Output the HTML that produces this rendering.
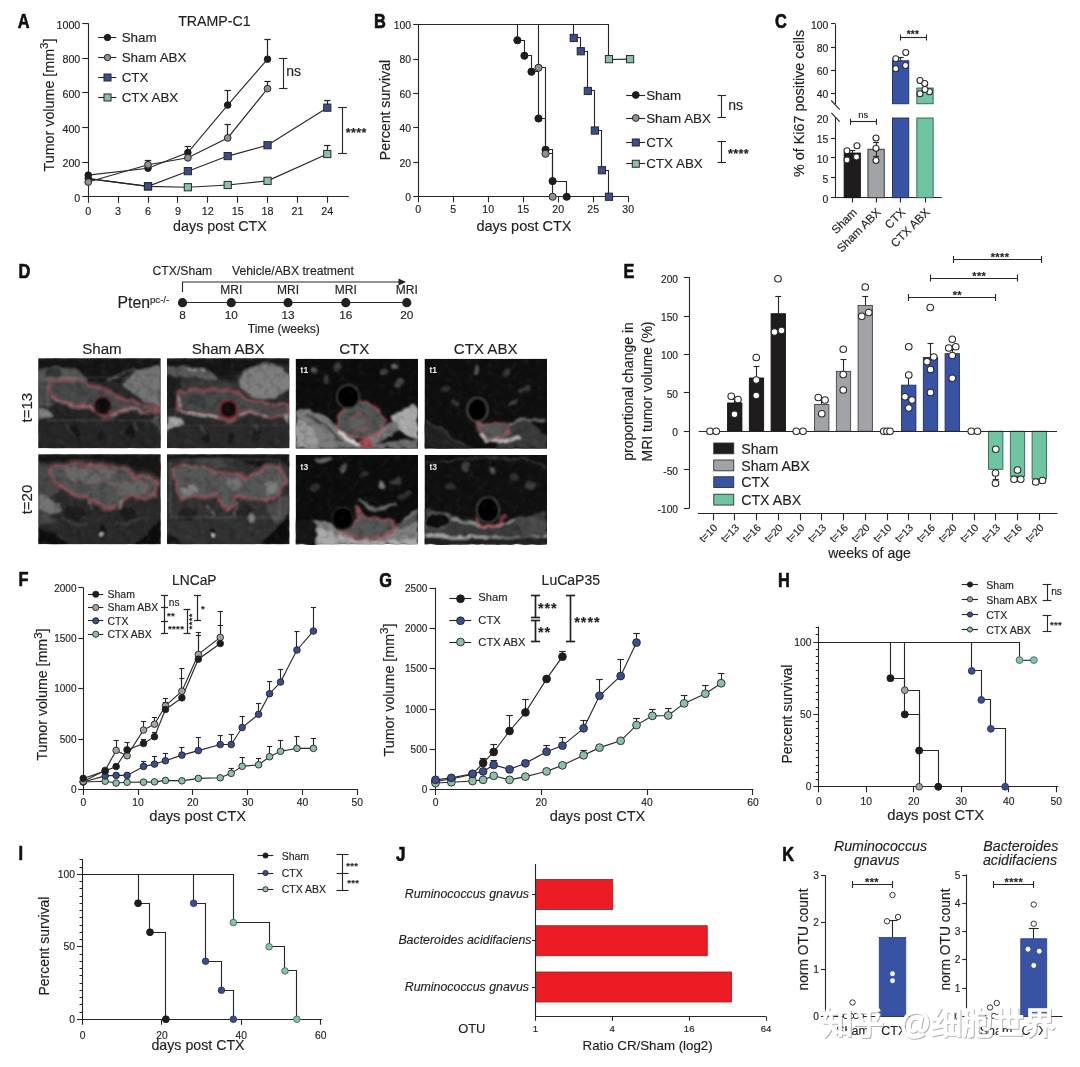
<!DOCTYPE html>
<html lang="en"><head><meta charset="utf-8"><title>Figure</title>
<style>
html,body{margin:0;padding:0;background:#fff;}
body{width:1080px;height:1067px;overflow:hidden;}
svg{display:block;font-family:"Liberation Sans", sans-serif;}
svg text{font-family:"Liberation Sans", sans-serif;}
svg text.wm{font-family:"Liberation Sans","Noto Sans CJK SC",sans-serif;}
.t{stroke:#231f20;stroke-width:0.16px;}
#all{filter:blur(0.35px);}
</style></head><body>
<svg width="1080" height="1067" viewBox="0 0 1080 1067">
<defs>
<filter id="b05" x="-5%" y="-20%" width="110%" height="140%"><feGaussianBlur stdDeviation="0.5"/></filter>
<filter id="org" x="-5%" y="-5%" width="110%" height="110%"><feTurbulence type="fractalNoise" baseFrequency="0.09" numOctaves="2" seed="3" result="n"/><feDisplacementMap in="SourceGraphic" in2="n" scale="7" xChannelSelector="R" yChannelSelector="G"/><feGaussianBlur stdDeviation="0.9"/></filter>
<filter id="b1" x="-5%" y="-5%" width="110%" height="110%"><feGaussianBlur stdDeviation="0.9"/></filter>
<filter id="noise" x="0" y="0" width="100%" height="100%"><feTurbulence type="fractalNoise" baseFrequency="0.16" numOctaves="2" seed="7"/><feColorMatrix type="matrix" values="0 0 0 0 1  0 0 0 0 1  0 0 0 0 1  2.2 0 0 0 -1.05"/></filter>
<filter id="noise2" x="0" y="0" width="100%" height="100%"><feTurbulence type="fractalNoise" baseFrequency="0.13" numOctaves="2" seed="23"/><feColorMatrix type="matrix" values="0 0 0 0 0  0 0 0 0 0  0 0 0 0 0  0 2.2 0 0 -1.0"/></filter>
<clipPath id="mclip1"><rect x="0" y="0" width="122.5" height="90"/></clipPath><clipPath id="mclip2"><rect x="0" y="0" width="122.5" height="90"/></clipPath><clipPath id="mclip3"><rect x="0" y="0" width="122.5" height="90"/></clipPath><clipPath id="mclip4"><rect x="0" y="0" width="122.5" height="90"/></clipPath><clipPath id="mclip5"><rect x="0" y="0" width="122.5" height="90"/></clipPath><clipPath id="mclip6"><rect x="0" y="0" width="122.5" height="90"/></clipPath><clipPath id="mclip7"><rect x="0" y="0" width="122.5" height="90"/></clipPath><clipPath id="mclip8"><rect x="0" y="0" width="122.5" height="90"/></clipPath>
</defs>
<rect x="0" y="0" width="1080" height="1067" fill="#ffffff"/>
<g id="all">
<text transform="translate(17.8 28.4) scale(0.82 1)" x="0" y="0" font-size="20" font-weight="bold" fill="#111" stroke="#111" stroke-width="0.65" stroke-linejoin="round">A</text>
<text class="t" x="214.4" y="25.8" font-size="14.2" text-anchor="middle" font-weight="normal" font-style="normal" fill="#231f20" >TRAMP-C1</text>
<line x1="88.5" y1="23.25" x2="88.5" y2="197.25" stroke="#272727" stroke-width="1.12" />
<line x1="87.75" y1="196.5" x2="348.8" y2="196.5" stroke="#272727" stroke-width="1.12" />
<line x1="82.25" y1="196.5" x2="88.25" y2="196.5" stroke="#272727" stroke-width="1.12" />
<text class="t" x="80.3" y="201.75" font-size="10.7" text-anchor="end" font-weight="normal" font-style="normal" fill="#231f20" >0</text>
<line x1="82.25" y1="162.5" x2="88.25" y2="162.5" stroke="#272727" stroke-width="1.12" />
<text class="t" x="80.3" y="167.15" font-size="10.7" text-anchor="end" font-weight="normal" font-style="normal" fill="#231f20" >200</text>
<line x1="82.25" y1="127.5" x2="88.25" y2="127.5" stroke="#272727" stroke-width="1.12" />
<text class="t" x="80.3" y="132.55" font-size="10.7" text-anchor="end" font-weight="normal" font-style="normal" fill="#231f20" >400</text>
<line x1="82.25" y1="92.5" x2="88.25" y2="92.5" stroke="#272727" stroke-width="1.12" />
<text class="t" x="80.3" y="97.95" font-size="10.7" text-anchor="end" font-weight="normal" font-style="normal" fill="#231f20" >600</text>
<line x1="82.25" y1="58.5" x2="88.25" y2="58.5" stroke="#272727" stroke-width="1.12" />
<text class="t" x="80.3" y="63.35" font-size="10.7" text-anchor="end" font-weight="normal" font-style="normal" fill="#231f20" >800</text>
<line x1="82.25" y1="23.5" x2="88.25" y2="23.5" stroke="#272727" stroke-width="1.12" />
<text class="t" x="80.3" y="28.75" font-size="10.7" text-anchor="end" font-weight="normal" font-style="normal" fill="#231f20" >1000</text>
<line x1="88.5" y1="196.75" x2="88.5" y2="202.75" stroke="#272727" stroke-width="1.12" />
<text class="t" x="88.25" y="214.5" font-size="10.8" text-anchor="middle" font-weight="normal" font-style="normal" fill="#231f20" >0</text>
<line x1="118.5" y1="196.75" x2="118.5" y2="202.75" stroke="#272727" stroke-width="1.12" />
<text class="t" x="118.13" y="214.5" font-size="10.8" text-anchor="middle" font-weight="normal" font-style="normal" fill="#231f20" >3</text>
<line x1="148.5" y1="196.75" x2="148.5" y2="202.75" stroke="#272727" stroke-width="1.12" />
<text class="t" x="148.01" y="214.5" font-size="10.8" text-anchor="middle" font-weight="normal" font-style="normal" fill="#231f20" >6</text>
<line x1="177.5" y1="196.75" x2="177.5" y2="202.75" stroke="#272727" stroke-width="1.12" />
<text class="t" x="177.89" y="214.5" font-size="10.8" text-anchor="middle" font-weight="normal" font-style="normal" fill="#231f20" >9</text>
<line x1="207.5" y1="196.75" x2="207.5" y2="202.75" stroke="#272727" stroke-width="1.12" />
<text class="t" x="207.77" y="214.5" font-size="10.8" text-anchor="middle" font-weight="normal" font-style="normal" fill="#231f20" >12</text>
<line x1="237.5" y1="196.75" x2="237.5" y2="202.75" stroke="#272727" stroke-width="1.12" />
<text class="t" x="237.65" y="214.5" font-size="10.8" text-anchor="middle" font-weight="normal" font-style="normal" fill="#231f20" >15</text>
<line x1="267.5" y1="196.75" x2="267.5" y2="202.75" stroke="#272727" stroke-width="1.12" />
<text class="t" x="267.53" y="214.5" font-size="10.8" text-anchor="middle" font-weight="normal" font-style="normal" fill="#231f20" >18</text>
<line x1="297.5" y1="196.75" x2="297.5" y2="202.75" stroke="#272727" stroke-width="1.12" />
<text class="t" x="297.41" y="214.5" font-size="10.8" text-anchor="middle" font-weight="normal" font-style="normal" fill="#231f20" >21</text>
<line x1="327.5" y1="196.75" x2="327.5" y2="202.75" stroke="#272727" stroke-width="1.12" />
<text class="t" x="327.29" y="214.5" font-size="10.8" text-anchor="middle" font-weight="normal" font-style="normal" fill="#231f20" >24</text>
<text class="t" x="220" y="230.5" font-size="14.3" text-anchor="middle" font-weight="normal" font-style="normal" fill="#231f20" >days post CTX</text>
<text class="t" x="0" y="0" font-size="14.3" text-anchor="middle" font-weight="normal" font-style="normal" fill="#231f20" transform="translate(53.8 105) rotate(-90)" >Tumor volume [mm<tspan dy="-5.5" font-size="11.5">3</tspan><tspan dy="5.5">]</tspan></text>
<line x1="187.5" y1="152.63" x2="187.5" y2="146.75" stroke="#272727" stroke-width="1.23" />
<line x1="184.65" y1="146.5" x2="191.05" y2="146.5" stroke="#272727" stroke-width="1.23" />
<line x1="227.5" y1="105.06" x2="227.5" y2="90.01" stroke="#272727" stroke-width="1.23" />
<line x1="224.49" y1="90.5" x2="230.89" y2="90.5" stroke="#272727" stroke-width="1.23" />
<line x1="267.5" y1="59.22" x2="267.5" y2="39.49" stroke="#272727" stroke-width="1.23" />
<line x1="264.33" y1="39.5" x2="270.73" y2="39.5" stroke="#272727" stroke-width="1.23" />
<line x1="148.5" y1="164.75" x2="148.5" y2="160.07" stroke="#272727" stroke-width="1.23" />
<line x1="144.81" y1="160.5" x2="151.21" y2="160.5" stroke="#272727" stroke-width="1.23" />
<line x1="227.5" y1="137.93" x2="227.5" y2="124.95" stroke="#272727" stroke-width="1.23" />
<line x1="224.49" y1="124.5" x2="230.89" y2="124.5" stroke="#272727" stroke-width="1.23" />
<line x1="267.5" y1="88.63" x2="267.5" y2="81.19" stroke="#272727" stroke-width="1.23" />
<line x1="264.33" y1="81.5" x2="270.73" y2="81.5" stroke="#272727" stroke-width="1.23" />
<line x1="327.5" y1="107.66" x2="327.5" y2="100.74" stroke="#272727" stroke-width="1.23" />
<line x1="324.09" y1="100.5" x2="330.49" y2="100.5" stroke="#272727" stroke-width="1.23" />
<line x1="327.5" y1="154.02" x2="327.5" y2="145.54" stroke="#272727" stroke-width="1.23" />
<line x1="324.09" y1="145.5" x2="330.49" y2="145.5" stroke="#272727" stroke-width="1.23" />
<polyline points="88.25,178.59 148.01,186.37 187.85,187.24 227.69,184.99 267.53,180.83 327.29,154.02" fill="none" stroke="#272727" stroke-width="1.12" />
<polyline points="88.25,178.59 148.01,186.37 187.85,171.15 227.69,156.09 267.53,145.2 327.29,107.66" fill="none" stroke="#272727" stroke-width="1.12" />
<polyline points="88.25,182.05 148.01,164.75 187.85,157.82 227.69,137.93 267.53,88.63" fill="none" stroke="#272727" stroke-width="1.12" />
<polyline points="88.25,175.12 148.01,168.21 187.85,152.63 227.69,105.06 267.53,59.22" fill="none" stroke="#272727" stroke-width="1.12" />
<rect x="144.41" y="182.77" width="7.2" height="7.2" fill="#8cc0aa" stroke="#272727" stroke-width="1" />
<rect x="184.25" y="183.64" width="7.2" height="7.2" fill="#8cc0aa" stroke="#272727" stroke-width="1" />
<rect x="224.09" y="181.39" width="7.2" height="7.2" fill="#8cc0aa" stroke="#272727" stroke-width="1" />
<rect x="263.93" y="177.23" width="7.2" height="7.2" fill="#8cc0aa" stroke="#272727" stroke-width="1" />
<rect x="323.69" y="150.42" width="7.2" height="7.2" fill="#8cc0aa" stroke="#272727" stroke-width="1" />
<rect x="144.41" y="182.77" width="7.2" height="7.2" fill="#3c4d8e" stroke="#272727" stroke-width="1" />
<rect x="184.25" y="167.55" width="7.2" height="7.2" fill="#3c4d8e" stroke="#272727" stroke-width="1" />
<rect x="224.09" y="152.5" width="7.2" height="7.2" fill="#3c4d8e" stroke="#272727" stroke-width="1" />
<rect x="263.93" y="141.6" width="7.2" height="7.2" fill="#3c4d8e" stroke="#272727" stroke-width="1" />
<rect x="323.69" y="104.06" width="7.2" height="7.2" fill="#3c4d8e" stroke="#272727" stroke-width="1" />
<circle cx="88.25" cy="178.59" r="3.3" fill="#1f1c1d" stroke="#1f1c1d" stroke-width="1" />
<circle cx="88.25" cy="175.12" r="3.3" fill="#1f1c1d" stroke="#1f1c1d" stroke-width="1" />
<circle cx="148.01" cy="168.21" r="3.3" fill="#1f1c1d" stroke="#1f1c1d" stroke-width="1" />
<circle cx="187.85" cy="152.63" r="3.3" fill="#1f1c1d" stroke="#1f1c1d" stroke-width="1" />
<circle cx="227.69" cy="105.06" r="3.3" fill="#1f1c1d" stroke="#1f1c1d" stroke-width="1" />
<circle cx="267.53" cy="59.22" r="3.3" fill="#1f1c1d" stroke="#1f1c1d" stroke-width="1" />
<circle cx="88.25" cy="182.05" r="3.4" fill="#8e9093" stroke="#272727" stroke-width="1" />
<circle cx="148.01" cy="164.75" r="3.4" fill="#8e9093" stroke="#272727" stroke-width="1" />
<circle cx="187.85" cy="157.82" r="3.4" fill="#8e9093" stroke="#272727" stroke-width="1" />
<circle cx="227.69" cy="137.93" r="3.4" fill="#8e9093" stroke="#272727" stroke-width="1" />
<circle cx="267.53" cy="88.63" r="3.4" fill="#8e9093" stroke="#272727" stroke-width="1" />
<line x1="98.2" y1="37.5" x2="116.3" y2="37.5" stroke="#272727" stroke-width="1.12" />
<circle cx="107.5" cy="37.5" r="3.2" fill="#1f1c1d" stroke="#1f1c1d" stroke-width="1" />
<text class="t" x="121.7" y="42.3" font-size="13.4" text-anchor="start" font-weight="normal" font-style="normal" fill="#231f20" >Sham</text>
<line x1="98.2" y1="57.5" x2="116.3" y2="57.5" stroke="#272727" stroke-width="1.12" />
<circle cx="107.5" cy="57.5" r="3.2" fill="#8e9093" stroke="#272727" stroke-width="1" />
<text class="t" x="121.7" y="62.3" font-size="13.4" text-anchor="start" font-weight="normal" font-style="normal" fill="#231f20" >Sham ABX</text>
<line x1="98.2" y1="77.5" x2="116.3" y2="77.5" stroke="#272727" stroke-width="1.12" />
<rect x="104" y="74" width="7" height="7" fill="#3c4d8e" stroke="#272727" stroke-width="1" />
<text class="t" x="121.7" y="82.3" font-size="13.4" text-anchor="start" font-weight="normal" font-style="normal" fill="#231f20" >CTX</text>
<line x1="98.2" y1="97.5" x2="116.3" y2="97.5" stroke="#272727" stroke-width="1.12" />
<rect x="104" y="94" width="7" height="7" fill="#8cc0aa" stroke="#272727" stroke-width="1" />
<text class="t" x="121.7" y="102.3" font-size="13.4" text-anchor="start" font-weight="normal" font-style="normal" fill="#231f20" >CTX ABX</text>
<line x1="283.5" y1="58.75" x2="283.5" y2="88.5" stroke="#272727" stroke-width="1.12" />
<line x1="279.05" y1="58.5" x2="287.45" y2="58.5" stroke="#272727" stroke-width="1.12" />
<line x1="279.05" y1="88.5" x2="287.45" y2="88.5" stroke="#272727" stroke-width="1.12" />
<text class="t" x="286.3" y="76.3" font-size="14" text-anchor="start" font-weight="normal" font-style="normal" fill="#231f20" >ns</text>
<line x1="342.5" y1="107" x2="342.5" y2="153.5" stroke="#272727" stroke-width="1.12" />
<line x1="338.1" y1="107.5" x2="346.9" y2="107.5" stroke="#272727" stroke-width="1.12" />
<line x1="338.1" y1="153.5" x2="346.9" y2="153.5" stroke="#272727" stroke-width="1.12" />
<text class="t" x="345.8" y="137.25" font-size="12.5" text-anchor="start" font-weight="bold" font-style="normal" fill="#231f20" letter-spacing="0.35">****</text>
<text transform="translate(374 27.6) scale(0.82 1)" x="0" y="0" font-size="20" font-weight="bold" fill="#111" stroke="#111" stroke-width="0.65" stroke-linejoin="round">B</text>
<line x1="418.5" y1="24.25" x2="418.5" y2="197.25" stroke="#272727" stroke-width="1.12" />
<line x1="417.75" y1="196.5" x2="628.75" y2="196.5" stroke="#272727" stroke-width="1.12" />
<line x1="413.25" y1="196.5" x2="418.25" y2="196.5" stroke="#272727" stroke-width="1.12" />
<text class="t" x="411" y="201.05" font-size="10.4" text-anchor="end" font-weight="normal" font-style="normal" fill="#231f20" >0</text>
<line x1="413.25" y1="162.5" x2="418.25" y2="162.5" stroke="#272727" stroke-width="1.12" />
<text class="t" x="411" y="166.65" font-size="10.4" text-anchor="end" font-weight="normal" font-style="normal" fill="#231f20" >20</text>
<line x1="413.25" y1="127.5" x2="418.25" y2="127.5" stroke="#272727" stroke-width="1.12" />
<text class="t" x="411" y="132.25" font-size="10.4" text-anchor="end" font-weight="normal" font-style="normal" fill="#231f20" >40</text>
<line x1="413.25" y1="93.5" x2="418.25" y2="93.5" stroke="#272727" stroke-width="1.12" />
<text class="t" x="411" y="97.85" font-size="10.4" text-anchor="end" font-weight="normal" font-style="normal" fill="#231f20" >60</text>
<line x1="413.25" y1="59.5" x2="418.25" y2="59.5" stroke="#272727" stroke-width="1.12" />
<text class="t" x="411" y="63.45" font-size="10.4" text-anchor="end" font-weight="normal" font-style="normal" fill="#231f20" >80</text>
<line x1="413.25" y1="24.5" x2="418.25" y2="24.5" stroke="#272727" stroke-width="1.12" />
<text class="t" x="411" y="29.05" font-size="10.4" text-anchor="end" font-weight="normal" font-style="normal" fill="#231f20" >100</text>
<line x1="418.5" y1="196.75" x2="418.5" y2="202.25" stroke="#272727" stroke-width="1.12" />
<text class="t" x="418.25" y="212.6" font-size="10.6" text-anchor="middle" font-weight="normal" font-style="normal" fill="#231f20" >0</text>
<line x1="453.5" y1="196.75" x2="453.5" y2="202.25" stroke="#272727" stroke-width="1.12" />
<text class="t" x="453.25" y="212.6" font-size="10.6" text-anchor="middle" font-weight="normal" font-style="normal" fill="#231f20" >5</text>
<line x1="488.5" y1="196.75" x2="488.5" y2="202.25" stroke="#272727" stroke-width="1.12" />
<text class="t" x="488.25" y="212.6" font-size="10.6" text-anchor="middle" font-weight="normal" font-style="normal" fill="#231f20" >10</text>
<line x1="523.5" y1="196.75" x2="523.5" y2="202.25" stroke="#272727" stroke-width="1.12" />
<text class="t" x="523.25" y="212.6" font-size="10.6" text-anchor="middle" font-weight="normal" font-style="normal" fill="#231f20" >15</text>
<line x1="558.5" y1="196.75" x2="558.5" y2="202.25" stroke="#272727" stroke-width="1.12" />
<text class="t" x="558.25" y="212.6" font-size="10.6" text-anchor="middle" font-weight="normal" font-style="normal" fill="#231f20" >20</text>
<line x1="593.5" y1="196.75" x2="593.5" y2="202.25" stroke="#272727" stroke-width="1.12" />
<text class="t" x="593.25" y="212.6" font-size="10.6" text-anchor="middle" font-weight="normal" font-style="normal" fill="#231f20" >25</text>
<line x1="628.5" y1="196.75" x2="628.5" y2="202.25" stroke="#272727" stroke-width="1.12" />
<text class="t" x="628.25" y="212.6" font-size="10.6" text-anchor="middle" font-weight="normal" font-style="normal" fill="#231f20" >30</text>
<text class="t" x="524" y="231" font-size="14.5" text-anchor="middle" font-weight="normal" font-style="normal" fill="#231f20" >days post CTX</text>
<text class="t" x="0" y="0" font-size="14.1" text-anchor="middle" font-weight="normal" font-style="normal" fill="#231f20" transform="translate(390 110) rotate(-90)" >Percent survival</text>
<polyline points="418.5,24.5 608.5,24.5 608.5,59.5 630.1,59.15" fill="none" stroke="#272727" stroke-width="1.12" />
<polyline points="418.5,24.5 573.5,24.5 573.5,37.5 580.5,37.5 580.5,51.5 587.5,51.5 587.5,90.5 594.5,90.5 594.5,130.5 601.5,130.5 601.5,170.5 608.5,170.5 608.5,196.5" fill="none" stroke="#272727" stroke-width="1.12" />
<polyline points="418.5,24.5 538.5,24.5 538.5,67.5 545.5,67.5 545.5,153.5 552.5,153.5 552.5,196.5" fill="none" stroke="#272727" stroke-width="1.12" />
<polyline points="418.5,24.5 517.5,24.5 517.5,40.5 524.5,40.5 524.5,55.5 531.5,55.5 531.5,71.5 538.5,71.5 538.5,118.5 545.5,118.5 545.5,149.5 552.5,149.5 552.5,181.5 566.5,181.5 566.5,196.5" fill="none" stroke="#272727" stroke-width="1.12" />
<circle cx="517.38" cy="40.23" r="3.6" fill="#1f1c1d" stroke="#1f1c1d" stroke-width="1" />
<circle cx="524.42" cy="55.71" r="3.6" fill="#1f1c1d" stroke="#1f1c1d" stroke-width="1" />
<circle cx="531.47" cy="71.71" r="3.6" fill="#1f1c1d" stroke="#1f1c1d" stroke-width="1" />
<circle cx="538.51" cy="118.49" r="3.6" fill="#1f1c1d" stroke="#1f1c1d" stroke-width="1" />
<circle cx="545.56" cy="149.79" r="3.6" fill="#1f1c1d" stroke="#1f1c1d" stroke-width="1" />
<circle cx="552.61" cy="181.1" r="3.6" fill="#1f1c1d" stroke="#1f1c1d" stroke-width="1" />
<circle cx="566.69" cy="196.75" r="3.6" fill="#1f1c1d" stroke="#1f1c1d" stroke-width="1" />
<circle cx="538.51" cy="67.75" r="3.6" fill="#8e9093" stroke="#272727" stroke-width="1" />
<circle cx="545.56" cy="153.75" r="3.6" fill="#8e9093" stroke="#272727" stroke-width="1" />
<circle cx="552.61" cy="196.75" r="3.6" fill="#8e9093" stroke="#272727" stroke-width="1" />
<rect x="570.14" y="34.39" width="7.2" height="7.2" fill="#3c4d8e" stroke="#272727" stroke-width="1" />
<rect x="577.18" y="47.64" width="7.2" height="7.2" fill="#3c4d8e" stroke="#272727" stroke-width="1" />
<rect x="584.23" y="87.37" width="7.2" height="7.2" fill="#3c4d8e" stroke="#272727" stroke-width="1" />
<rect x="591.27" y="126.93" width="7.2" height="7.2" fill="#3c4d8e" stroke="#272727" stroke-width="1" />
<rect x="598.32" y="166.66" width="7.2" height="7.2" fill="#3c4d8e" stroke="#272727" stroke-width="1" />
<rect x="605.37" y="193.15" width="7.2" height="7.2" fill="#3c4d8e" stroke="#272727" stroke-width="1" />
<rect x="605.37" y="55.55" width="7.2" height="7.2" fill="#8cc0aa" stroke="#272727" stroke-width="1" />
<rect x="626.5" y="55.55" width="7.2" height="7.2" fill="#8cc0aa" stroke="#272727" stroke-width="1" />
<line x1="626.2" y1="95.5" x2="645" y2="95.5" stroke="#272727" stroke-width="1.12" />
<circle cx="635.8" cy="95" r="3.4" fill="#1f1c1d" stroke="#1f1c1d" stroke-width="1" />
<text class="t" x="646.2" y="99.6" font-size="13.4" text-anchor="start" font-weight="normal" font-style="normal" fill="#231f20" >Sham</text>
<line x1="626.2" y1="118.5" x2="645" y2="118.5" stroke="#272727" stroke-width="1.12" />
<circle cx="635.8" cy="118" r="3.4" fill="#8e9093" stroke="#272727" stroke-width="1" />
<text class="t" x="646.2" y="122.6" font-size="13.4" text-anchor="start" font-weight="normal" font-style="normal" fill="#231f20" >Sham ABX</text>
<line x1="626.2" y1="142.5" x2="645" y2="142.5" stroke="#272727" stroke-width="1.12" />
<rect x="632.3" y="139" width="7" height="7" fill="#3c4d8e" stroke="#272727" stroke-width="1" />
<text class="t" x="646.2" y="147.1" font-size="13.4" text-anchor="start" font-weight="normal" font-style="normal" fill="#231f20" >CTX</text>
<line x1="626.2" y1="163.5" x2="645" y2="163.5" stroke="#272727" stroke-width="1.12" />
<rect x="632.3" y="160.25" width="7" height="7" fill="#8cc0aa" stroke="#272727" stroke-width="1" />
<text class="t" x="646.2" y="167.6" font-size="13.4" text-anchor="start" font-weight="normal" font-style="normal" fill="#231f20" >CTX ABX</text>
<line x1="721.5" y1="95.75" x2="721.5" y2="117" stroke="#272727" stroke-width="1.12" />
<line x1="717.55" y1="95.5" x2="725.95" y2="95.5" stroke="#272727" stroke-width="1.12" />
<line x1="717.55" y1="117.5" x2="725.95" y2="117.5" stroke="#272727" stroke-width="1.12" />
<text class="t" x="728.2" y="110" font-size="14" text-anchor="start" font-weight="normal" font-style="normal" fill="#231f20" >ns</text>
<line x1="721.5" y1="141.25" x2="721.5" y2="162.75" stroke="#272727" stroke-width="1.12" />
<line x1="717.55" y1="141.5" x2="725.95" y2="141.5" stroke="#272727" stroke-width="1.12" />
<line x1="717.55" y1="162.5" x2="725.95" y2="162.5" stroke="#272727" stroke-width="1.12" />
<text class="t" x="728" y="158.25" font-size="12.5" text-anchor="start" font-weight="bold" font-style="normal" fill="#231f20" letter-spacing="0.35">****</text>
<text transform="translate(775 28.2) scale(0.82 1)" x="0" y="0" font-size="20" font-weight="bold" fill="#111" stroke="#111" stroke-width="0.65" stroke-linejoin="round">C</text>
<line x1="835.5" y1="24.3" x2="835.5" y2="104" stroke="#272727" stroke-width="1.12" />
<line x1="835.5" y1="117.3" x2="835.5" y2="198.2" stroke="#272727" stroke-width="1.12" />
<line x1="831.3" y1="100.5" x2="839.7" y2="109.6" stroke="#272727" stroke-width="1.12" />
<line x1="831.3" y1="112.9" x2="839.7" y2="121.6" stroke="#272727" stroke-width="1.12" />
<line x1="835" y1="197.5" x2="941.8" y2="197.5" stroke="#272727" stroke-width="1.12" />
<line x1="831" y1="93.5" x2="835.5" y2="93.5" stroke="#272727" stroke-width="1.12" />
<text class="t" x="828.3" y="98.05" font-size="10.4" text-anchor="end" font-weight="normal" font-style="normal" fill="#231f20" >40</text>
<line x1="831" y1="70.5" x2="835.5" y2="70.5" stroke="#272727" stroke-width="1.12" />
<text class="t" x="828.3" y="74.95" font-size="10.4" text-anchor="end" font-weight="normal" font-style="normal" fill="#231f20" >60</text>
<line x1="831" y1="47.5" x2="835.5" y2="47.5" stroke="#272727" stroke-width="1.12" />
<text class="t" x="828.3" y="51.85" font-size="10.4" text-anchor="end" font-weight="normal" font-style="normal" fill="#231f20" >80</text>
<line x1="831" y1="23.5" x2="835.5" y2="23.5" stroke="#272727" stroke-width="1.12" />
<text class="t" x="828.3" y="28.75" font-size="10.4" text-anchor="end" font-weight="normal" font-style="normal" fill="#231f20" >100</text>
<line x1="831" y1="197.5" x2="835.5" y2="197.5" stroke="#272727" stroke-width="1.12" />
<text class="t" x="828.3" y="202.55" font-size="10.4" text-anchor="end" font-weight="normal" font-style="normal" fill="#231f20" >0</text>
<line x1="831" y1="177.5" x2="835.5" y2="177.5" stroke="#272727" stroke-width="1.12" />
<text class="t" x="828.3" y="182.65" font-size="10.4" text-anchor="end" font-weight="normal" font-style="normal" fill="#231f20" >5</text>
<line x1="831" y1="157.5" x2="835.5" y2="157.5" stroke="#272727" stroke-width="1.12" />
<text class="t" x="828.3" y="162.75" font-size="10.4" text-anchor="end" font-weight="normal" font-style="normal" fill="#231f20" >10</text>
<line x1="831" y1="138.5" x2="835.5" y2="138.5" stroke="#272727" stroke-width="1.12" />
<text class="t" x="828.3" y="142.85" font-size="10.4" text-anchor="end" font-weight="normal" font-style="normal" fill="#231f20" >15</text>
<text class="t" x="828.3" y="122.95" font-size="10.4" text-anchor="end" font-weight="normal" font-style="normal" fill="#231f20" >20</text>
<text class="t" x="0" y="0" font-size="14.4" text-anchor="middle" font-weight="normal" font-style="normal" fill="#231f20" transform="translate(803.6 103.5) rotate(-90)" >% of Ki67 positive cells</text>
<rect x="844.1" y="153" width="16.3" height="44.75" fill="#1f1c1d" stroke="#111" stroke-width="0.8" />
<rect x="867.95" y="149.25" width="16.3" height="48.5" fill="#a1a3a6" stroke="#272727" stroke-width="0.9" />
<rect x="892.45" y="60.75" width="16.3" height="43" fill="#3953a4" stroke="#1f2c5e" stroke-width="0.9" />
<rect x="892.45" y="118" width="16.3" height="79.75" fill="#3953a4" stroke="#1f2c5e" stroke-width="0.9" />
<rect x="916.85" y="88" width="16.3" height="15.75" fill="#6fc5a2" stroke="#2f5f4e" stroke-width="0.9" />
<rect x="916.85" y="118" width="16.3" height="79.75" fill="#6fc5a2" stroke="#2f5f4e" stroke-width="0.9" />
<line x1="852.5" y1="197.75" x2="852.5" y2="202.5" stroke="#272727" stroke-width="1.12" />
<text class="t" x="0" y="0" font-size="11.7" text-anchor="end" font-weight="normal" font-style="normal" fill="#231f20" transform="translate(857.75 213) rotate(-45)" >Sham</text>
<line x1="876.5" y1="197.75" x2="876.5" y2="202.5" stroke="#272727" stroke-width="1.12" />
<text class="t" x="0" y="0" font-size="11.7" text-anchor="end" font-weight="normal" font-style="normal" fill="#231f20" transform="translate(881.6 213) rotate(-45)" >Sham ABX</text>
<line x1="900.5" y1="197.75" x2="900.5" y2="202.5" stroke="#272727" stroke-width="1.12" />
<text class="t" x="0" y="0" font-size="11.7" text-anchor="end" font-weight="normal" font-style="normal" fill="#231f20" transform="translate(906.1 213) rotate(-45)" >CTX</text>
<line x1="925.5" y1="197.75" x2="925.5" y2="202.5" stroke="#272727" stroke-width="1.12" />
<text class="t" x="0" y="0" font-size="11.7" text-anchor="end" font-weight="normal" font-style="normal" fill="#231f20" transform="translate(930.5 213) rotate(-45)" >CTX ABX</text>
<line x1="852.5" y1="153" x2="852.5" y2="150" stroke="#272727" stroke-width="1.12" />
<line x1="849.25" y1="150.5" x2="855.25" y2="150.5" stroke="#272727" stroke-width="1.12" />
<line x1="876.5" y1="149.25" x2="876.5" y2="142" stroke="#272727" stroke-width="1.12" />
<line x1="873.1" y1="142.5" x2="879.1" y2="142.5" stroke="#272727" stroke-width="1.12" />
<line x1="876.5" y1="149.25" x2="876.5" y2="156.3" stroke="#272727" stroke-width="1.12" />
<line x1="873.1" y1="156.5" x2="879.1" y2="156.5" stroke="#272727" stroke-width="1.12" />
<line x1="900.5" y1="60.75" x2="900.5" y2="57.5" stroke="#272727" stroke-width="1.12" />
<line x1="897.6" y1="57.5" x2="903.6" y2="57.5" stroke="#272727" stroke-width="1.12" />
<line x1="925.5" y1="88" x2="925.5" y2="85.5" stroke="#272727" stroke-width="1.12" />
<line x1="922" y1="85.5" x2="928" y2="85.5" stroke="#272727" stroke-width="1.12" />
<circle cx="847" cy="150.75" r="3" fill="#fff" stroke="#2a2a2a" stroke-width="1.1" />
<circle cx="857" cy="145.75" r="3" fill="#fff" stroke="#2a2a2a" stroke-width="1.1" />
<circle cx="847" cy="160" r="3" fill="#fff" stroke="#2a2a2a" stroke-width="1.1" />
<circle cx="856.5" cy="157" r="3" fill="#fff" stroke="#2a2a2a" stroke-width="1.1" />
<circle cx="876" cy="138" r="3" fill="#fff" stroke="#2a2a2a" stroke-width="1.1" />
<circle cx="876" cy="148.25" r="3" fill="#fff" stroke="#2a2a2a" stroke-width="1.1" />
<circle cx="876" cy="160.5" r="3" fill="#fff" stroke="#2a2a2a" stroke-width="1.1" />
<circle cx="895.75" cy="58.75" r="3" fill="#fff" stroke="#2a2a2a" stroke-width="1.1" />
<circle cx="905.75" cy="52.5" r="3" fill="#fff" stroke="#2a2a2a" stroke-width="1.1" />
<circle cx="895.75" cy="68.75" r="3" fill="#fff" stroke="#2a2a2a" stroke-width="1.1" />
<circle cx="905.5" cy="65.5" r="3" fill="#fff" stroke="#2a2a2a" stroke-width="1.1" />
<circle cx="920" cy="80.5" r="3" fill="#fff" stroke="#2a2a2a" stroke-width="1.1" />
<circle cx="924.75" cy="83.5" r="3" fill="#fff" stroke="#2a2a2a" stroke-width="1.1" />
<circle cx="920" cy="93.75" r="3" fill="#fff" stroke="#2a2a2a" stroke-width="1.1" />
<circle cx="929.5" cy="91.75" r="3" fill="#fff" stroke="#2a2a2a" stroke-width="1.1" />
<circle cx="925" cy="89.5" r="3" fill="#fff" stroke="#2a2a2a" stroke-width="1.1" />
<line x1="850.5" y1="121.5" x2="876.5" y2="121.5" stroke="#272727" stroke-width="1.12" />
<line x1="850.5" y1="118.75" x2="850.5" y2="124.75" stroke="#272727" stroke-width="1.12" />
<line x1="876.5" y1="118.75" x2="876.5" y2="124.75" stroke="#272727" stroke-width="1.12" />
<text class="t" x="863.3" y="118" font-size="9.5" text-anchor="middle" font-weight="normal" font-style="normal" fill="#231f20" >ns</text>
<line x1="900.5" y1="37.5" x2="926.25" y2="37.5" stroke="#272727" stroke-width="1.12" />
<line x1="900.5" y1="34.5" x2="900.5" y2="40.5" stroke="#272727" stroke-width="1.12" />
<line x1="926.5" y1="34.5" x2="926.5" y2="40.5" stroke="#272727" stroke-width="1.12" />
<text class="t" x="913" y="38" font-size="10" text-anchor="middle" font-weight="bold" font-style="normal" fill="#231f20" letter-spacing="0.35">***</text>
<text transform="translate(18.5 278.2) scale(0.82 1)" x="0" y="0" font-size="20" font-weight="bold" fill="#111" stroke="#111" stroke-width="0.65" stroke-linejoin="round">D</text>
<text class="t" x="152.5" y="275" font-size="12.2" text-anchor="start" font-weight="normal" font-style="normal" fill="#231f20" >CTX/Sham</text>
<text class="t" x="232" y="275" font-size="12.2" text-anchor="start" font-weight="normal" font-style="normal" fill="#231f20" >Vehicle/ABX treatment</text>
<polyline points="182.5,292 182.5,282 402,282" fill="none" stroke="#272727" stroke-width="1.12" />
<path d="M398.5 278.6 L406 282 L398.5 285.4 Z" fill="#222"/>
<line x1="182.5" y1="302.5" x2="406.75" y2="302.5" stroke="#272727" stroke-width="1.12" />
<circle cx="182.5" cy="302.7" r="4.6" fill="#231f20" stroke="none" stroke-width="1" />
<text class="t" x="182.5" y="318.8" font-size="11.8" text-anchor="middle" font-weight="normal" font-style="normal" fill="#231f20" >8</text>
<circle cx="231.25" cy="302.7" r="4.6" fill="#231f20" stroke="none" stroke-width="1" />
<text class="t" x="231.25" y="318.8" font-size="11.8" text-anchor="middle" font-weight="normal" font-style="normal" fill="#231f20" >10</text>
<text class="t" x="231.25" y="293.8" font-size="12" text-anchor="middle" font-weight="normal" font-style="normal" fill="#231f20" >MRI</text>
<circle cx="288" cy="302.7" r="4.6" fill="#231f20" stroke="none" stroke-width="1" />
<text class="t" x="288" y="318.8" font-size="11.8" text-anchor="middle" font-weight="normal" font-style="normal" fill="#231f20" >13</text>
<text class="t" x="288" y="293.8" font-size="12" text-anchor="middle" font-weight="normal" font-style="normal" fill="#231f20" >MRI</text>
<circle cx="345.75" cy="302.7" r="4.6" fill="#231f20" stroke="none" stroke-width="1" />
<text class="t" x="345.75" y="318.8" font-size="11.8" text-anchor="middle" font-weight="normal" font-style="normal" fill="#231f20" >16</text>
<text class="t" x="345.75" y="293.8" font-size="12" text-anchor="middle" font-weight="normal" font-style="normal" fill="#231f20" >MRI</text>
<circle cx="406.75" cy="302.7" r="4.6" fill="#231f20" stroke="none" stroke-width="1" />
<text class="t" x="406.75" y="318.8" font-size="11.8" text-anchor="middle" font-weight="normal" font-style="normal" fill="#231f20" >20</text>
<text class="t" x="406.75" y="293.8" font-size="12" text-anchor="middle" font-weight="normal" font-style="normal" fill="#231f20" >MRI</text>
<text class="t" x="117.5" y="308" font-size="15.8" text-anchor="start" font-weight="normal" font-style="normal" fill="#231f20" >Pten<tspan dy="-5.5" font-size="9.6">pc-/-</tspan></text>
<text class="t" x="283.8" y="332.5" font-size="12.1" text-anchor="middle" font-weight="normal" font-style="normal" fill="#231f20" >Time (weeks)</text>
<text class="t" x="101.9" y="353.8" font-size="15.1" text-anchor="middle" font-weight="normal" font-style="normal" fill="#231f20" >Sham</text>
<text class="t" x="228.2" y="353.8" font-size="15.1" text-anchor="middle" font-weight="normal" font-style="normal" fill="#231f20" >Sham ABX</text>
<text class="t" x="354.3" y="353.8" font-size="15.1" text-anchor="middle" font-weight="normal" font-style="normal" fill="#231f20" >CTX</text>
<text class="t" x="485.7" y="353.8" font-size="15.1" text-anchor="middle" font-weight="normal" font-style="normal" fill="#231f20" >CTX ABX</text>
<text class="t" x="0" y="0" font-size="15" text-anchor="middle" font-weight="normal" font-style="normal" fill="#231f20" transform="translate(32.3 407.7) rotate(-90)" >t=13</text>
<text class="t" x="0" y="0" font-size="15" text-anchor="middle" font-weight="normal" font-style="normal" fill="#231f20" transform="translate(32.3 499.5) rotate(-90)" >t=20</text>
<g transform="translate(38.25 358.2)" clip-path="url(#mclip1)">
<rect x="0" y="0" width="122.5" height="90" fill="#282828"/>
<g filter="url(#org)">
<path d="M0 0H122.5V9L95 12L80 22L62 24L48 22L42 12L20 8L0 12Z" fill="#131313" stroke="none" stroke-width="1" opacity="1"/>
<path d="M0 12L20 8L42 12L50 22L40 25L8 23L0 28Z" fill="#545454" stroke="none" stroke-width="1" opacity="1"/>
<ellipse cx="16" cy="15" rx="7" ry="5" fill="#363636" stroke="none" stroke-width="1" opacity="1" transform="rotate(0 16 15)"/>
<path d="M70 24L84 16L98 10" fill="none" stroke="#777" stroke-width="1.5" opacity="0.7"/>
<path d="M84 26L98 12L122.5 8V50L108 44L96 36Z" fill="#727272" stroke="none" stroke-width="1" opacity="1"/>
<path d="M0 26L8 24L10 34L16 46L0 50Z" fill="#4c4c4c" stroke="none" stroke-width="1" opacity="1"/>
<path d="M10 23L39 22L52 26L65 31L88 41L104 46L118 50L122.5 52V54L104 53L91 51L82 54L73 56L66 58L58 53L49 47L36 46L23 44L14 36L10 31Z" fill="#464848" stroke="rgba(205,130,140,0.28)" stroke-width="3.6" stroke-linejoin="round"/><path d="M10 23L39 22L52 26L65 31L88 41L104 46L118 50L122.5 52V54L104 53L91 51L82 54L73 56L66 58L58 53L49 47L36 46L23 44L14 36L10 31Z" fill="none" stroke="rgba(178,62,76,0.78)" stroke-width="1.1" stroke-linejoin="round"/>
<path d="M14 37L23 45L36 47L49 48L56 52" fill="none" stroke="#c9a9ad" stroke-width="1.5" opacity="0.55"/>
<path d="M74 57L84 54L92 52L104 54" fill="none" stroke="#bbb" stroke-width="1.3" opacity="0.5"/>
<path d="M0 52L14 48L36 48L56 54L64 60L76 58L100 55L122.5 56V90H0Z" fill="#272727" stroke="none" stroke-width="1" opacity="1"/>
<ellipse cx="30" cy="56" rx="14" ry="6" fill="#222" stroke="none" stroke-width="1" opacity="1" transform="rotate(0 30 56)"/>
<ellipse cx="94" cy="62" rx="16" ry="6" fill="#212121" stroke="none" stroke-width="1" opacity="1" transform="rotate(0 94 62)"/>
<ellipse cx="36" cy="72" rx="5" ry="6" fill="#191919" stroke="none" stroke-width="1" opacity="1" transform="rotate(0 36 72)"/>
<ellipse cx="92" cy="74" rx="5" ry="6" fill="#191919" stroke="none" stroke-width="1" opacity="1" transform="rotate(0 92 74)"/>
<ellipse cx="62" cy="78" rx="4" ry="5" fill="#1c1c1c" stroke="none" stroke-width="1" opacity="1" transform="rotate(0 62 78)"/>
<path d="M28 66L34 76M96 64L100 74" fill="none" stroke="#777" stroke-width="1.2" opacity="0.6"/>
<path d="M0 50L10 52L14 58L0 62Z" fill="#808080" stroke="none" stroke-width="1" opacity="1"/>
<path d="M112 62L122.5 56V74Z" fill="#4a4a4a" stroke="none" stroke-width="1" opacity="1"/>
</g>
<g filter="url(#b1)">
<ellipse cx="64.5" cy="47.5" rx="8.8" ry="8.8" fill="#0a0a0a" stroke="#6a2a30" stroke-width="1.0" opacity="1" transform="rotate(0 64.5 47.5)"/>
<rect x="9.5" y="19.5" width="108" height="42.5" fill="none" stroke="#aaa" stroke-width="0.6" opacity="0.55"/>
</g>
<rect x="0" y="0" width="122.5" height="90" fill="#fff" filter="url(#noise)" opacity="0.05"/>
<rect x="0" y="0" width="122.5" height="90" fill="#000" filter="url(#noise2)" opacity="0.22"/>
</g>
<g transform="translate(167 358.2)" clip-path="url(#mclip2)">
<rect x="0" y="0" width="122.5" height="90" fill="#2b2b2b"/>
<g filter="url(#org)">
<path d="M0 0H122.5V8L100 4L78 10L68 20L54 20L46 12L20 8L0 8Z" fill="#171717" stroke="none" stroke-width="1" opacity="1"/>
<path d="M0 9L22 8L46 13L54 21L40 22L14 18L0 16Z" fill="#5a5a5a" stroke="none" stroke-width="1" opacity="1"/>
<path d="M20 11L40 13" fill="none" stroke="#ccc" stroke-width="1.6" opacity="0.7"/>
<ellipse cx="98.5" cy="23.5" rx="25.5" ry="17.5" fill="#7e7e7e" stroke="none" stroke-width="1" opacity="1" transform="rotate(0 98.5 23.5)"/>
<ellipse cx="6" cy="26" rx="9" ry="9" fill="#1b1b1b" stroke="none" stroke-width="1" opacity="1" transform="rotate(0 6 26)"/>
<ellipse cx="4" cy="44" rx="7" ry="8" fill="#1b1b1b" stroke="none" stroke-width="1" opacity="1" transform="rotate(0 4 44)"/>
<path d="M14 22L40 23L56 24L70 26L74 30L60 31L40 30L14 30Z" fill="#3a3a3a" stroke="none" stroke-width="1" opacity="1"/>
<path d="M12 33L40 31L60 32L71 34L82 41L100 45L121 47L122.5 56L112 58L103 59L90 56L77 54L70 58L62 62L56 61L48 59L40 57L24 55L12 52L10 42Z" fill="#464848" stroke="rgba(205,130,140,0.28)" stroke-width="3.6" stroke-linejoin="round"/><path d="M12 33L40 31L60 32L71 34L82 41L100 45L121 47L122.5 56L112 58L103 59L90 56L77 54L70 58L62 62L56 61L48 59L40 57L24 55L12 52L10 42Z" fill="none" stroke="rgba(178,62,76,0.78)" stroke-width="1.1" stroke-linejoin="round"/>
<ellipse cx="30" cy="42" rx="9" ry="6" fill="#383c3a" stroke="none" stroke-width="1" opacity="1" transform="rotate(0 30 42)"/>
<path d="M14 53L28 56L40 58L50 60" fill="none" stroke="#ddd" stroke-width="2.0" opacity="0.65"/>
<path d="M74 56L84 55L100 58" fill="none" stroke="#ccc" stroke-width="1.6" opacity="0.55"/>
<path d="M11 38L14 48" fill="none" stroke="#ddd" stroke-width="2.2" opacity="0.55"/>
<path d="M0 58L16 57L48 61L62 65L76 60L100 60L122.5 58V90H0Z" fill="#2c2c2c" stroke="none" stroke-width="1" opacity="1"/>
<path d="M0 60L14 60L16 67L4 69L0 73Z" fill="#a8a8a8" stroke="none" stroke-width="1" opacity="1"/>
<path d="M116 58L122.5 56V66Z" fill="#909090" stroke="none" stroke-width="1" opacity="1"/>
<ellipse cx="38" cy="78" rx="4" ry="6" fill="#1c1c1c" stroke="none" stroke-width="1" opacity="1" transform="rotate(0 38 78)"/>
<ellipse cx="64" cy="80" rx="3" ry="5" fill="#1c1c1c" stroke="none" stroke-width="1" opacity="1" transform="rotate(0 64 80)"/>
<ellipse cx="90" cy="76" rx="4" ry="6" fill="#1c1c1c" stroke="none" stroke-width="1" opacity="1" transform="rotate(0 90 76)"/>
<path d="M34 68L38 76M88 66L92 74" fill="none" stroke="#777" stroke-width="1.2" opacity="0.6"/>
</g>
<g filter="url(#b1)">
<ellipse cx="61.5" cy="51" rx="8.8" ry="8.8" fill="#0b0b0b" stroke="#8a2a35" stroke-width="1.5" opacity="1" transform="rotate(0 61.5 51)"/>
<rect x="9" y="18" width="120" height="49" fill="none" stroke="#999" stroke-width="0.5" opacity="0.35"/>
</g>
<rect x="0" y="0" width="122.5" height="90" fill="#fff" filter="url(#noise)" opacity="0.05"/>
<rect x="0" y="0" width="122.5" height="90" fill="#000" filter="url(#noise2)" opacity="0.22"/>
</g>
<g transform="translate(295.6 358.7)" clip-path="url(#mclip3)">
<rect x="0" y="0" width="122.5" height="90" fill="#0d0d0d"/>
<g filter="url(#org)">
<ellipse cx="18" cy="12" rx="4" ry="3" fill="#555" stroke="none" stroke-width="1" opacity="1" transform="rotate(0 18 12)"/>
<ellipse cx="42" cy="8" rx="3" ry="5" fill="#444" stroke="none" stroke-width="1" opacity="1" transform="rotate(0 42 8)"/>
<ellipse cx="88" cy="14" rx="5" ry="3" fill="#4a4a4a" stroke="none" stroke-width="1" opacity="1" transform="rotate(-30 88 14)"/>
<ellipse cx="104" cy="24" rx="6" ry="3" fill="#444" stroke="none" stroke-width="1" opacity="1" transform="rotate(-30 104 24)"/>
<ellipse cx="100" cy="8" rx="3" ry="2" fill="#666" stroke="none" stroke-width="1" opacity="1" transform="rotate(0 100 8)"/>
<ellipse cx="30" cy="22" rx="3" ry="4" fill="#3a3a3a" stroke="none" stroke-width="1" opacity="1" transform="rotate(0 30 22)"/>
<path d="M0 52L14 50L30 58L44 68L58 80L70 90H0Z" fill="#7c7c7c" stroke="none" stroke-width="1" opacity="1"/>
<path d="M0 62L10 64L20 76L24 90H0Z" fill="#9a9a9a" stroke="none" stroke-width="1" opacity="1"/>
<path d="M10 56L30 66L46 84" fill="none" stroke="#333" stroke-width="2.5" opacity="0.8"/>
<path d="M96 58L106 50L118 47L122.5 50V80L110 76L100 70Z" fill="#a8a8a8" stroke="none" stroke-width="1" opacity="1"/>
<path d="M84 70L100 62L104 72L90 80L70 88L60 86Z" fill="#777" stroke="none" stroke-width="1" opacity="1"/>
<path d="M60 86L122.5 80V90H56Z" fill="#6d6d6d" stroke="none" stroke-width="1" opacity="1"/>
<path d="M40 60L56 40L72 44L82 54L90 62L84 74L70 80L54 78L44 72Z" fill="#505452" stroke="rgba(205,130,140,0.28)" stroke-width="3.6" stroke-linejoin="round"/><path d="M40 60L56 40L72 44L82 54L90 62L84 74L70 80L54 78L44 72Z" fill="none" stroke="rgba(178,62,76,0.78)" stroke-width="1.1" stroke-linejoin="round"/>
<ellipse cx="64" cy="64" rx="9" ry="8.5" fill="#5a5f5d" stroke="rgba(178,62,76,0.78)" stroke-width="1.1" opacity="1" transform="rotate(0 64 64)"/>
<path d="M44 72L54 82L68 86" fill="none" stroke="#eee" stroke-width="3" opacity="0.85"/>
<ellipse cx="71" cy="86" rx="5" ry="5" fill="#a04850" stroke="rgba(178,62,76,0.78)" stroke-width="1.2" opacity="1" transform="rotate(0 71 86)"/>
</g>
<g filter="url(#b1)">
<ellipse cx="52.5" cy="38" rx="11.5" ry="12" fill="#050505" stroke="#4a4a4a" stroke-width="1.2" opacity="1" transform="rotate(0 52.5 38)"/>
</g>
<rect x="0" y="0" width="122.5" height="90" fill="#fff" filter="url(#noise)" opacity="0.05"/>
<rect x="0" y="0" width="122.5" height="90" fill="#000" filter="url(#noise2)" opacity="0.22"/>
<text x="5" y="14.5" font-size="8.5" font-weight="bold" fill="#eee">t1</text>
</g>
<g transform="translate(424.5 358.7)" clip-path="url(#mclip4)">
<rect x="0" y="0" width="122.5" height="90" fill="#0f0f0f"/>
<g filter="url(#org)">
<ellipse cx="52" cy="10" rx="2.5" ry="4" fill="#555" stroke="none" stroke-width="1" opacity="1" transform="rotate(0 52 10)"/>
<ellipse cx="82" cy="14" rx="3" ry="6" fill="#3a3a3a" stroke="none" stroke-width="1" opacity="1" transform="rotate(20 82 14)"/>
<ellipse cx="22" cy="30" rx="5" ry="3" fill="#333" stroke="none" stroke-width="1" opacity="1" transform="rotate(0 22 30)"/>
<ellipse cx="100" cy="30" rx="7" ry="2.5" fill="#3a3a3a" stroke="none" stroke-width="1" opacity="1" transform="rotate(-25 100 30)"/>
<ellipse cx="88" cy="44" rx="6" ry="2.5" fill="#444" stroke="none" stroke-width="1" opacity="1" transform="rotate(-30 88 44)"/>
<ellipse cx="30" cy="44" rx="4" ry="3" fill="#333" stroke="none" stroke-width="1" opacity="1" transform="rotate(0 30 44)"/>
<path d="M0 62L20 74L40 86L52 90H0Z" fill="#222" stroke="none" stroke-width="1" opacity="1"/>
<path d="M0 62L22 74L44 88" fill="none" stroke="#555" stroke-width="1.2" opacity="0.8"/>
<path d="M86 64L104 62L122.5 76V90H70L76 78Z" fill="#3a3a3a" stroke="none" stroke-width="1" opacity="1"/>
<path d="M84 66L100 60L122.5 62" fill="none" stroke="#999" stroke-width="2.5" opacity="0.7"/>
<path d="M50 62L60 66L72 62L82 66L85 74L78 80L62 80L54 72Z" fill="#555957" stroke="rgba(205,130,140,0.28)" stroke-width="3.6" stroke-linejoin="round"/><path d="M50 62L60 66L72 62L82 66L85 74L78 80L62 80L54 72Z" fill="none" stroke="rgba(178,62,76,0.78)" stroke-width="1.1" stroke-linejoin="round"/>
<path d="M54 74L62 82L80 82L96 78" fill="none" stroke="#ddd" stroke-width="2.6" opacity="0.8"/>
</g>
<g filter="url(#b1)">
<ellipse cx="53" cy="51" rx="10.5" ry="12" fill="#050505" stroke="#5a5a5a" stroke-width="1.2" opacity="1" transform="rotate(0 53 51)"/>
</g>
<rect x="0" y="0" width="122.5" height="90" fill="#fff" filter="url(#noise)" opacity="0.05"/>
<rect x="0" y="0" width="122.5" height="90" fill="#000" filter="url(#noise2)" opacity="0.22"/>
<text x="5" y="14.5" font-size="8.5" font-weight="bold" fill="#eee">t1</text>
</g>
<g transform="translate(38.25 454.2)" clip-path="url(#mclip5)">
<rect x="0" y="0" width="122.5" height="90" fill="#2c2c2c"/>
<g filter="url(#org)">
<path d="M0 0H122.5V24L112 16L98 16L86 9L60 5L30 5L0 9Z" fill="#131313" stroke="none" stroke-width="1" opacity="1"/>
<path d="M0 72L14 80L34 90H0Z" fill="#101010" stroke="none" stroke-width="1" opacity="1"/>
<path d="M122.5 62L108 80L96 90H122.5Z" fill="#101010" stroke="none" stroke-width="1" opacity="1"/>
<path d="M0 10L12 11L14 24L22 36L10 44L0 44Z" fill="#474747" stroke="none" stroke-width="1" opacity="1"/>
<path d="M13 13L32 9L65 11L88 15L98 22L111 22L119 29L118 42L104 44L91 42L83 48L77 53L67 55L60 50L49 44L34 40L21 32L13 21Z" fill="#515353" stroke="rgba(205,130,140,0.28)" stroke-width="3.6" stroke-linejoin="round"/><path d="M13 13L32 9L65 11L88 15L98 22L111 22L119 29L118 42L104 44L91 42L83 48L77 53L67 55L60 50L49 44L34 40L21 32L13 21Z" fill="none" stroke="rgba(178,62,76,0.78)" stroke-width="1.1" stroke-linejoin="round"/>
<path d="M26 14L58 13L76 18L72 26L58 29L40 28L28 23Z" fill="#666" stroke="rgba(170,85,85,0.6)" stroke-width="0.7" opacity="1"/>
<path d="M70 29L90 26L108 27L114 33L104 40L84 40Z" fill="#646464" stroke="rgba(170,85,85,0.6)" stroke-width="0.7" opacity="1"/>
<path d="M0 42L12 44L22 50L24 58L10 60L0 56Z" fill="#727272" stroke="none" stroke-width="1" opacity="1"/>
<path d="M0 58L10 61L20 70L0 68Z" fill="#4c4c4c" stroke="none" stroke-width="1" opacity="1"/>
<path d="M24 46L48 45L58 52L66 57L80 54L96 46L122.5 44V64L108 80L96 90H34L14 80L22 62Z" fill="#2a2a2a" stroke="none" stroke-width="1" opacity="1"/>
<ellipse cx="36" cy="58" rx="11" ry="7" fill="#1d1d1d" stroke="none" stroke-width="1" opacity="1" transform="rotate(0 36 58)"/>
<ellipse cx="90" cy="60" rx="9" ry="7" fill="#1e1e1e" stroke="none" stroke-width="1" opacity="1" transform="rotate(0 90 60)"/>
<ellipse cx="64" cy="76" rx="4" ry="6" fill="#171717" stroke="none" stroke-width="1" opacity="1" transform="rotate(0 64 76)"/>
<path d="M50 46L54 56M82 45L80 56" fill="none" stroke="#ccc" stroke-width="1.5" opacity="0.5"/>
<path d="M22 62L34 70L50 70M76 70L92 70L104 62" fill="none" stroke="#666" stroke-width="1.2" opacity="0.6"/>
<ellipse cx="64" cy="80" rx="1.5" ry="2" fill="#ddd" stroke="none" stroke-width="1" opacity="1" transform="rotate(0 64 80)"/>
</g>
<g filter="url(#b1)">
</g>
<rect x="0" y="0" width="122.5" height="90" fill="#fff" filter="url(#noise)" opacity="0.05"/>
<rect x="0" y="0" width="122.5" height="90" fill="#000" filter="url(#noise2)" opacity="0.22"/>
</g>
<g transform="translate(167 454.2)" clip-path="url(#mclip6)">
<rect x="0" y="0" width="122.5" height="90" fill="#323232"/>
<g filter="url(#org)">
<path d="M0 0H122.5V12L112 7L100 8L92 14L80 7L60 3L20 3L0 8Z" fill="#151515" stroke="none" stroke-width="1" opacity="1"/>
<path d="M122.5 58L110 74L92 90H122.5Z" fill="#101010" stroke="none" stroke-width="1" opacity="1"/>
<path d="M0 78L16 90H0Z" fill="#141414" stroke="none" stroke-width="1" opacity="1"/>
<path d="M7 15L15 11L40 13.5L61 18L77 23L92 18L100 11L115 13.5L119 26L113 40L98 47L82 44L69 42L65 52L61 58L56 52L50 42L33 42L15 44L9 37Z" fill="#555757" stroke="rgba(205,130,140,0.28)" stroke-width="3.6" stroke-linejoin="round"/><path d="M7 15L15 11L40 13.5L61 18L77 23L92 18L100 11L115 13.5L119 26L113 40L98 47L82 44L69 42L65 52L61 58L56 52L50 42L33 42L15 44L9 37Z" fill="none" stroke="rgba(178,62,76,0.78)" stroke-width="1.1" stroke-linejoin="round"/>
<path d="M26 7L56 6L60 12L30 13Z" fill="#4a4a4a" stroke="none" stroke-width="1" opacity="1"/>
<path d="M14 33L28 31L32 38L18 42Z" fill="#808080" stroke="none" stroke-width="1" opacity="1"/>
<path d="M98 28L110 26L112 36L100 42Z" fill="#7c7c7c" stroke="none" stroke-width="1" opacity="1"/>
<path d="M60 24L74 25L76 34L62 36Z" fill="#727272" stroke="none" stroke-width="1" opacity="1"/>
<path d="M0 46L16 46L33 44L50 46L58 58L64 56L70 44L82 46L98 50L122.5 40V58L110 74L92 90H16L0 78Z" fill="#303030" stroke="none" stroke-width="1" opacity="1"/>
<ellipse cx="20" cy="60" rx="9" ry="7" fill="#202020" stroke="none" stroke-width="1" opacity="1" transform="rotate(0 20 60)"/>
<ellipse cx="76" cy="58" rx="8" ry="6" fill="#262626" stroke="none" stroke-width="1" opacity="1" transform="rotate(0 76 58)"/>
<ellipse cx="46" cy="78" rx="3" ry="5" fill="#181818" stroke="none" stroke-width="1" opacity="1" transform="rotate(0 46 78)"/>
<ellipse cx="84" cy="64" rx="3.5" ry="4.5" fill="#7c7c7c" stroke="none" stroke-width="1" opacity="1" transform="rotate(0 84 64)"/>
<path d="M98 52L122.5 40V58L110 70Z" fill="#4c4c4c" stroke="none" stroke-width="1" opacity="1"/>
<path d="M40 50L46 62M70 48L68 60" fill="none" stroke="#bbb" stroke-width="1.4" opacity="0.5"/>
<ellipse cx="46" cy="82" rx="1.5" ry="2" fill="#eee" stroke="none" stroke-width="1" opacity="1" transform="rotate(0 46 82)"/>
</g>
<g filter="url(#b1)">
<rect x="3.5" y="5" width="109" height="58" fill="none" stroke="#bbb" stroke-width="0.6" opacity="0.5"/>
</g>
<rect x="0" y="0" width="122.5" height="90" fill="#fff" filter="url(#noise)" opacity="0.05"/>
<rect x="0" y="0" width="122.5" height="90" fill="#000" filter="url(#noise2)" opacity="0.22"/>
</g>
<g transform="translate(295.6 455)" clip-path="url(#mclip7)">
<rect x="0" y="0" width="122.5" height="88.8" fill="#0d0d0d"/>
<g filter="url(#org)">
<ellipse cx="28" cy="4" rx="8" ry="2.5" fill="#666" stroke="none" stroke-width="1" opacity="1" transform="rotate(0 28 4)"/>
<ellipse cx="48" cy="12" rx="3" ry="4" fill="#555" stroke="none" stroke-width="1" opacity="1" transform="rotate(0 48 12)"/>
<ellipse cx="86" cy="30" rx="4" ry="5" fill="#777" stroke="none" stroke-width="1" opacity="1" transform="rotate(0 86 30)"/>
<ellipse cx="100" cy="26" rx="6" ry="3" fill="#3a3a3a" stroke="none" stroke-width="1" opacity="1" transform="rotate(0 100 26)"/>
<ellipse cx="20" cy="32" rx="4" ry="4" fill="#333" stroke="none" stroke-width="1" opacity="1" transform="rotate(0 20 32)"/>
<ellipse cx="68" cy="20" rx="5" ry="3" fill="#333" stroke="none" stroke-width="1" opacity="1" transform="rotate(0 68 20)"/>
<ellipse cx="110" cy="40" rx="8" ry="3" fill="#333" stroke="none" stroke-width="1" opacity="1" transform="rotate(-20 110 40)"/>
<path d="M0 68L20 65L36 68L44 74L60 84L80 84L100 72L112 60L122.5 54V90H0Z" fill="#808080" stroke="none" stroke-width="1" opacity="1"/>
<path d="M8 74L30 75L50 83L80 86L122.5 84V90H8Z" fill="#aaaaaa" stroke="none" stroke-width="1" opacity="1"/>
<path d="M0 66L14 64L22 72L20 90H0Z" fill="#151515" stroke="none" stroke-width="1" opacity="1"/>
<path d="M62 44L80 56L100 50" fill="none" stroke="#aaa" stroke-width="3" opacity="0.6"/>
<path d="M100 70L122.5 56V66L104 76Z" fill="#555" stroke="none" stroke-width="1" opacity="1"/>
<path d="M60 52L70 60L84 64L98 66L100 74L92 80L74 84L58 82L44 76L56 70L62 62Z" fill="#525654" stroke="rgba(205,130,140,0.28)" stroke-width="3.6" stroke-linejoin="round"/><path d="M60 52L70 60L84 64L98 66L100 74L92 80L74 84L58 82L44 76L56 70L62 62Z" fill="none" stroke="rgba(178,62,76,0.78)" stroke-width="1.1" stroke-linejoin="round"/>
</g>
<g filter="url(#b1)">
<ellipse cx="47" cy="63.5" rx="11" ry="11.5" fill="#050505" stroke="#3a3a3a" stroke-width="1.0" opacity="1" transform="rotate(0 47 63.5)"/>
</g>
<rect x="0" y="0" width="122.5" height="88.8" fill="#fff" filter="url(#noise)" opacity="0.05"/>
<rect x="0" y="0" width="122.5" height="88.8" fill="#000" filter="url(#noise2)" opacity="0.22"/>
<text x="5" y="14.5" font-size="8.5" font-weight="bold" fill="#eee">t3</text>
</g>
<g transform="translate(424.5 455)" clip-path="url(#mclip8)">
<rect x="0" y="0" width="122.5" height="88.8" fill="#101010"/>
<g filter="url(#org)">
<path d="M0 8L30 4L70 2L100 4L122.5 12" fill="none" stroke="#444" stroke-width="1.5" opacity="0.8"/>
<ellipse cx="42" cy="12" rx="3" ry="5" fill="#4a4a4a" stroke="none" stroke-width="1" opacity="1" transform="rotate(0 42 12)"/>
<ellipse cx="68" cy="16" rx="3" ry="4" fill="#555" stroke="none" stroke-width="1" opacity="1" transform="rotate(0 68 16)"/>
<ellipse cx="106" cy="30" rx="6" ry="4" fill="#3d3d3d" stroke="none" stroke-width="1" opacity="1" transform="rotate(0 106 30)"/>
<ellipse cx="26" cy="32" rx="6" ry="3" fill="#333" stroke="none" stroke-width="1" opacity="1" transform="rotate(0 26 32)"/>
<ellipse cx="90" cy="22" rx="5" ry="3" fill="#333" stroke="none" stroke-width="1" opacity="1" transform="rotate(0 90 22)"/>
<path d="M0 54L20 58L40 64L50 70L78 70L96 62L122.5 56V90H0Z" fill="#3a3a3a" stroke="none" stroke-width="1" opacity="1"/>
<path d="M0 79L40 80L80 82L122.5 80V83L80 85.5L40 84L0 83Z" fill="#a8a8a8" stroke="none" stroke-width="1" opacity="1"/>
<path d="M28 64L48 68L60 72L80 70L90 64" fill="none" stroke="#aaa" stroke-width="2.5" opacity="0.8"/>
<path d="M90 64L104 60L122.5 66V80L100 82Z" fill="#4a4a4a" stroke="none" stroke-width="1" opacity="1"/>
<ellipse cx="14" cy="66" rx="13" ry="8" fill="#111" stroke="#777" stroke-width="1.2" opacity="1" transform="rotate(0 14 66)"/>
<path d="M0 84L122.5 82V90H0Z" fill="#222" stroke="none" stroke-width="1" opacity="1"/>
<path d="M50 62L56 70L66 72L76 68L80 60" fill="none" stroke="rgba(205,130,140,0.28)" stroke-width="3.6" stroke-linejoin="round"/><path d="M50 62L56 70L66 72L76 68L80 60" fill="none" stroke="rgba(178,62,76,0.78)" stroke-width="2.6" stroke-linejoin="round"/>
</g>
<g filter="url(#b1)">
<ellipse cx="63.5" cy="55" rx="11.5" ry="13" fill="#050505" stroke="#555" stroke-width="1.2" opacity="1" transform="rotate(0 63.5 55)"/>
</g>
<rect x="0" y="0" width="122.5" height="88.8" fill="#fff" filter="url(#noise)" opacity="0.05"/>
<rect x="0" y="0" width="122.5" height="88.8" fill="#000" filter="url(#noise2)" opacity="0.22"/>
<text x="5" y="14.5" font-size="8.5" font-weight="bold" fill="#eee">t3</text>
</g>
<text transform="translate(623.5 278.2) scale(0.82 1)" x="0" y="0" font-size="20" font-weight="bold" fill="#111" stroke="#111" stroke-width="0.65" stroke-linejoin="round">E</text>
<line x1="689.5" y1="277.15" x2="689.5" y2="508.55" stroke="#272727" stroke-width="1.12" />
<line x1="683.75" y1="508.5" x2="689.25" y2="508.5" stroke="#272727" stroke-width="1.12" />
<text class="t" x="678" y="513.05" font-size="10.2" text-anchor="end" font-weight="normal" font-style="normal" fill="#231f20" >-100</text>
<line x1="683.75" y1="469.5" x2="689.25" y2="469.5" stroke="#272727" stroke-width="1.12" />
<text class="t" x="678" y="474.65" font-size="10.2" text-anchor="end" font-weight="normal" font-style="normal" fill="#231f20" >-50</text>
<line x1="683.75" y1="431.5" x2="689.25" y2="431.5" stroke="#272727" stroke-width="1.12" />
<text class="t" x="678" y="436.25" font-size="10.2" text-anchor="end" font-weight="normal" font-style="normal" fill="#231f20" >0</text>
<line x1="683.75" y1="392.5" x2="689.25" y2="392.5" stroke="#272727" stroke-width="1.12" />
<text class="t" x="678" y="397.85" font-size="10.2" text-anchor="end" font-weight="normal" font-style="normal" fill="#231f20" >50</text>
<line x1="683.75" y1="354.5" x2="689.25" y2="354.5" stroke="#272727" stroke-width="1.12" />
<text class="t" x="678" y="359.45" font-size="10.2" text-anchor="end" font-weight="normal" font-style="normal" fill="#231f20" >100</text>
<line x1="683.75" y1="316.5" x2="689.25" y2="316.5" stroke="#272727" stroke-width="1.12" />
<text class="t" x="678" y="321.05" font-size="10.2" text-anchor="end" font-weight="normal" font-style="normal" fill="#231f20" >150</text>
<line x1="683.75" y1="277.5" x2="689.25" y2="277.5" stroke="#272727" stroke-width="1.12" />
<text class="t" x="678" y="282.65" font-size="10.2" text-anchor="end" font-weight="normal" font-style="normal" fill="#231f20" >200</text>
<text class="t" x="0" y="0" font-size="14" text-anchor="middle" font-weight="normal" font-style="normal" fill="#231f20" transform="translate(632.8 391.5) rotate(-90)" >proportional change in</text>
<text class="t" x="0" y="0" font-size="14" text-anchor="middle" font-weight="normal" font-style="normal" fill="#231f20" transform="translate(651.5 391.5) rotate(-90)" >MRI tumor volume (%)</text>
<line x1="734.5" y1="402.99" x2="734.5" y2="399.76" stroke="#272727" stroke-width="1.12" />
<line x1="731.75" y1="399.5" x2="737.75" y2="399.5" stroke="#272727" stroke-width="1.12" />
<rect x="727.6" y="402.99" width="14.3" height="28.26" fill="#1f1c1d" stroke="#111" stroke-width="0.9" />
<line x1="756.5" y1="378.03" x2="756.5" y2="366.74" stroke="#272727" stroke-width="1.12" />
<line x1="753.5" y1="366.5" x2="759.5" y2="366.5" stroke="#272727" stroke-width="1.12" />
<rect x="749.35" y="378.03" width="14.3" height="53.22" fill="#1f1c1d" stroke="#111" stroke-width="0.9" />
<line x1="778.5" y1="313.75" x2="778.5" y2="296.08" stroke="#272727" stroke-width="1.12" />
<line x1="775.25" y1="296.5" x2="781.25" y2="296.5" stroke="#272727" stroke-width="1.12" />
<rect x="771.1" y="313.75" width="14.3" height="117.5" fill="#1f1c1d" stroke="#111" stroke-width="0.9" />
<line x1="821.5" y1="404.52" x2="821.5" y2="400.53" stroke="#272727" stroke-width="1.12" />
<line x1="818.75" y1="400.5" x2="824.75" y2="400.5" stroke="#272727" stroke-width="1.12" />
<rect x="814.6" y="404.52" width="14.3" height="26.73" fill="#a1a3a6" stroke="#444" stroke-width="0.9" />
<line x1="843.5" y1="371.35" x2="843.5" y2="359.06" stroke="#272727" stroke-width="1.12" />
<line x1="840.5" y1="359.5" x2="846.5" y2="359.5" stroke="#272727" stroke-width="1.12" />
<rect x="836.35" y="371.35" width="14.3" height="59.9" fill="#a1a3a6" stroke="#444" stroke-width="0.9" />
<line x1="865.5" y1="305.53" x2="865.5" y2="296.08" stroke="#272727" stroke-width="1.12" />
<line x1="862.25" y1="296.5" x2="868.25" y2="296.5" stroke="#272727" stroke-width="1.12" />
<rect x="858.1" y="305.53" width="14.3" height="125.72" fill="#a1a3a6" stroke="#444" stroke-width="0.9" />
<line x1="908.5" y1="385.17" x2="908.5" y2="377.11" stroke="#272727" stroke-width="1.12" />
<line x1="905.75" y1="377.5" x2="911.75" y2="377.5" stroke="#272727" stroke-width="1.12" />
<rect x="901.6" y="385.17" width="14.3" height="46.08" fill="#3953a4" stroke="#1f2c5e" stroke-width="0.9" />
<line x1="930.5" y1="357.52" x2="930.5" y2="343.31" stroke="#272727" stroke-width="1.12" />
<line x1="927.5" y1="343.5" x2="933.5" y2="343.5" stroke="#272727" stroke-width="1.12" />
<rect x="923.35" y="357.52" width="14.3" height="73.73" fill="#3953a4" stroke="#1f2c5e" stroke-width="0.9" />
<line x1="952.5" y1="353.68" x2="952.5" y2="349.84" stroke="#272727" stroke-width="1.12" />
<line x1="949.25" y1="349.5" x2="955.25" y2="349.5" stroke="#272727" stroke-width="1.12" />
<rect x="945.1" y="353.68" width="14.3" height="77.57" fill="#3953a4" stroke="#1f2c5e" stroke-width="0.9" />
<line x1="995.5" y1="469.27" x2="995.5" y2="479.63" stroke="#272727" stroke-width="1.12" />
<line x1="992.75" y1="479.5" x2="998.75" y2="479.5" stroke="#272727" stroke-width="1.12" />
<rect x="988.6" y="431.25" width="14.3" height="38.02" fill="#6fc5a2" stroke="#2f5f4e" stroke-width="0.9" />
<line x1="1017.5" y1="476.25" x2="1017.5" y2="478.1" stroke="#272727" stroke-width="1.12" />
<line x1="1014.5" y1="478.5" x2="1020.5" y2="478.5" stroke="#272727" stroke-width="1.12" />
<rect x="1010.35" y="431.25" width="14.3" height="45" fill="#6fc5a2" stroke="#2f5f4e" stroke-width="0.9" />
<line x1="1039.5" y1="478.87" x2="1039.5" y2="480.4" stroke="#272727" stroke-width="1.12" />
<line x1="1036.25" y1="480.5" x2="1042.25" y2="480.5" stroke="#272727" stroke-width="1.12" />
<rect x="1032.1" y="431.25" width="14.3" height="47.62" fill="#6fc5a2" stroke="#2f5f4e" stroke-width="0.9" />
<line x1="698.7" y1="431.5" x2="1057" y2="431.5" stroke="#272727" stroke-width="1.23" />
<line x1="698" y1="513.5" x2="1057.5" y2="513.5" stroke="#272727" stroke-width="1.12" />
<line x1="713.5" y1="513.8" x2="713.5" y2="520.3" stroke="#272727" stroke-width="1.12" />
<text class="t" x="0" y="0" font-size="10.5" text-anchor="end" font-weight="normal" font-style="normal" fill="#231f20" transform="translate(718.2 528.4) rotate(-45)" >t=10</text>
<line x1="734.5" y1="513.8" x2="734.5" y2="520.3" stroke="#272727" stroke-width="1.12" />
<text class="t" x="0" y="0" font-size="10.5" text-anchor="end" font-weight="normal" font-style="normal" fill="#231f20" transform="translate(739.95 528.4) rotate(-45)" >t=13</text>
<line x1="756.5" y1="513.8" x2="756.5" y2="520.3" stroke="#272727" stroke-width="1.12" />
<text class="t" x="0" y="0" font-size="10.5" text-anchor="end" font-weight="normal" font-style="normal" fill="#231f20" transform="translate(761.7 528.4) rotate(-45)" >t=16</text>
<line x1="778.5" y1="513.8" x2="778.5" y2="520.3" stroke="#272727" stroke-width="1.12" />
<text class="t" x="0" y="0" font-size="10.5" text-anchor="end" font-weight="normal" font-style="normal" fill="#231f20" transform="translate(783.45 528.4) rotate(-45)" >t=20</text>
<line x1="800.5" y1="513.8" x2="800.5" y2="520.3" stroke="#272727" stroke-width="1.12" />
<text class="t" x="0" y="0" font-size="10.5" text-anchor="end" font-weight="normal" font-style="normal" fill="#231f20" transform="translate(805.2 528.4) rotate(-45)" >t=10</text>
<line x1="821.5" y1="513.8" x2="821.5" y2="520.3" stroke="#272727" stroke-width="1.12" />
<text class="t" x="0" y="0" font-size="10.5" text-anchor="end" font-weight="normal" font-style="normal" fill="#231f20" transform="translate(826.95 528.4) rotate(-45)" >t=13</text>
<line x1="843.5" y1="513.8" x2="843.5" y2="520.3" stroke="#272727" stroke-width="1.12" />
<text class="t" x="0" y="0" font-size="10.5" text-anchor="end" font-weight="normal" font-style="normal" fill="#231f20" transform="translate(848.7 528.4) rotate(-45)" >t=16</text>
<line x1="865.5" y1="513.8" x2="865.5" y2="520.3" stroke="#272727" stroke-width="1.12" />
<text class="t" x="0" y="0" font-size="10.5" text-anchor="end" font-weight="normal" font-style="normal" fill="#231f20" transform="translate(870.45 528.4) rotate(-45)" >t=20</text>
<line x1="887.5" y1="513.8" x2="887.5" y2="520.3" stroke="#272727" stroke-width="1.12" />
<text class="t" x="0" y="0" font-size="10.5" text-anchor="end" font-weight="normal" font-style="normal" fill="#231f20" transform="translate(892.2 528.4) rotate(-45)" >t=10</text>
<line x1="908.5" y1="513.8" x2="908.5" y2="520.3" stroke="#272727" stroke-width="1.12" />
<text class="t" x="0" y="0" font-size="10.5" text-anchor="end" font-weight="normal" font-style="normal" fill="#231f20" transform="translate(913.95 528.4) rotate(-45)" >t=13</text>
<line x1="930.5" y1="513.8" x2="930.5" y2="520.3" stroke="#272727" stroke-width="1.12" />
<text class="t" x="0" y="0" font-size="10.5" text-anchor="end" font-weight="normal" font-style="normal" fill="#231f20" transform="translate(935.7 528.4) rotate(-45)" >t=16</text>
<line x1="952.5" y1="513.8" x2="952.5" y2="520.3" stroke="#272727" stroke-width="1.12" />
<text class="t" x="0" y="0" font-size="10.5" text-anchor="end" font-weight="normal" font-style="normal" fill="#231f20" transform="translate(957.45 528.4) rotate(-45)" >t=20</text>
<line x1="974.5" y1="513.8" x2="974.5" y2="520.3" stroke="#272727" stroke-width="1.12" />
<text class="t" x="0" y="0" font-size="10.5" text-anchor="end" font-weight="normal" font-style="normal" fill="#231f20" transform="translate(979.2 528.4) rotate(-45)" >t=10</text>
<line x1="995.5" y1="513.8" x2="995.5" y2="520.3" stroke="#272727" stroke-width="1.12" />
<text class="t" x="0" y="0" font-size="10.5" text-anchor="end" font-weight="normal" font-style="normal" fill="#231f20" transform="translate(1000.95 528.4) rotate(-45)" >t=13</text>
<line x1="1017.5" y1="513.8" x2="1017.5" y2="520.3" stroke="#272727" stroke-width="1.12" />
<text class="t" x="0" y="0" font-size="10.5" text-anchor="end" font-weight="normal" font-style="normal" fill="#231f20" transform="translate(1022.7 528.4) rotate(-45)" >t=16</text>
<line x1="1039.5" y1="513.8" x2="1039.5" y2="520.3" stroke="#272727" stroke-width="1.12" />
<text class="t" x="0" y="0" font-size="10.5" text-anchor="end" font-weight="normal" font-style="normal" fill="#231f20" transform="translate(1044.45 528.4) rotate(-45)" >t=20</text>
<text class="t" x="869.5" y="558" font-size="14" text-anchor="middle" font-weight="normal" font-style="normal" fill="#231f20" >weeks of age</text>
<circle cx="710" cy="431.25" r="3.3" fill="#fff" stroke="#2a2a2a" stroke-width="1.1" />
<circle cx="716.25" cy="431.25" r="3.3" fill="#fff" stroke="#2a2a2a" stroke-width="1.1" />
<circle cx="731.25" cy="396.25" r="3.3" fill="#fff" stroke="#2a2a2a" stroke-width="1.1" />
<circle cx="738" cy="399.5" r="3.3" fill="#fff" stroke="#2a2a2a" stroke-width="1.1" />
<circle cx="734.5" cy="414.25" r="3.3" fill="#fff" stroke="#2a2a2a" stroke-width="1.1" />
<circle cx="756.25" cy="357.5" r="3.3" fill="#fff" stroke="#2a2a2a" stroke-width="1.1" />
<circle cx="756.25" cy="380" r="3.3" fill="#fff" stroke="#2a2a2a" stroke-width="1.1" />
<circle cx="756.25" cy="395.5" r="3.3" fill="#fff" stroke="#2a2a2a" stroke-width="1.1" />
<circle cx="778" cy="278.75" r="3.3" fill="#fff" stroke="#2a2a2a" stroke-width="1.1" />
<circle cx="774.5" cy="332" r="3.3" fill="#fff" stroke="#2a2a2a" stroke-width="1.1" />
<circle cx="781.5" cy="330.5" r="3.3" fill="#fff" stroke="#2a2a2a" stroke-width="1.1" />
<circle cx="796.3" cy="431.25" r="3.3" fill="#fff" stroke="#2a2a2a" stroke-width="1.1" />
<circle cx="803" cy="431.25" r="3.3" fill="#fff" stroke="#2a2a2a" stroke-width="1.1" />
<circle cx="818.25" cy="397.5" r="3.3" fill="#fff" stroke="#2a2a2a" stroke-width="1.1" />
<circle cx="825" cy="400" r="3.3" fill="#fff" stroke="#2a2a2a" stroke-width="1.1" />
<circle cx="821.75" cy="413.75" r="3.3" fill="#fff" stroke="#2a2a2a" stroke-width="1.1" />
<circle cx="843.25" cy="349.25" r="3.3" fill="#fff" stroke="#2a2a2a" stroke-width="1.1" />
<circle cx="843.25" cy="374.5" r="3.3" fill="#fff" stroke="#2a2a2a" stroke-width="1.1" />
<circle cx="843.25" cy="390" r="3.3" fill="#fff" stroke="#2a2a2a" stroke-width="1.1" />
<circle cx="865.25" cy="287" r="3.3" fill="#fff" stroke="#2a2a2a" stroke-width="1.1" />
<circle cx="861.75" cy="316.25" r="3.3" fill="#fff" stroke="#2a2a2a" stroke-width="1.1" />
<circle cx="868.75" cy="312.5" r="3.3" fill="#fff" stroke="#2a2a2a" stroke-width="1.1" />
<circle cx="883.75" cy="431.25" r="3.3" fill="#fff" stroke="#2a2a2a" stroke-width="1.1" />
<circle cx="887" cy="431.25" r="3.3" fill="#fff" stroke="#2a2a2a" stroke-width="1.1" />
<circle cx="890" cy="431.25" r="3.3" fill="#fff" stroke="#2a2a2a" stroke-width="1.1" />
<circle cx="908.75" cy="346.75" r="3.3" fill="#fff" stroke="#2a2a2a" stroke-width="1.1" />
<circle cx="908.75" cy="375" r="3.3" fill="#fff" stroke="#2a2a2a" stroke-width="1.1" />
<circle cx="905" cy="396.75" r="3.3" fill="#fff" stroke="#2a2a2a" stroke-width="1.1" />
<circle cx="912" cy="400" r="3.3" fill="#fff" stroke="#2a2a2a" stroke-width="1.1" />
<circle cx="908.75" cy="408" r="3.3" fill="#fff" stroke="#2a2a2a" stroke-width="1.1" />
<circle cx="930.25" cy="307.5" r="3.3" fill="#fff" stroke="#2a2a2a" stroke-width="1.1" />
<circle cx="927" cy="361.75" r="3.3" fill="#fff" stroke="#2a2a2a" stroke-width="1.1" />
<circle cx="933.75" cy="357" r="3.3" fill="#fff" stroke="#2a2a2a" stroke-width="1.1" />
<circle cx="930.5" cy="369.5" r="3.3" fill="#fff" stroke="#2a2a2a" stroke-width="1.1" />
<circle cx="930.5" cy="392.5" r="3.3" fill="#fff" stroke="#2a2a2a" stroke-width="1.1" />
<circle cx="952.25" cy="339.25" r="3.3" fill="#fff" stroke="#2a2a2a" stroke-width="1.1" />
<circle cx="948.75" cy="348" r="3.3" fill="#fff" stroke="#2a2a2a" stroke-width="1.1" />
<circle cx="955.75" cy="346.75" r="3.3" fill="#fff" stroke="#2a2a2a" stroke-width="1.1" />
<circle cx="952.25" cy="355.5" r="3.3" fill="#fff" stroke="#2a2a2a" stroke-width="1.1" />
<circle cx="952.25" cy="378.25" r="3.3" fill="#fff" stroke="#2a2a2a" stroke-width="1.1" />
<circle cx="971.25" cy="431.25" r="3.3" fill="#fff" stroke="#2a2a2a" stroke-width="1.1" />
<circle cx="977.5" cy="431.25" r="3.3" fill="#fff" stroke="#2a2a2a" stroke-width="1.1" />
<circle cx="995.75" cy="449.25" r="3.3" fill="#fff" stroke="#2a2a2a" stroke-width="1.1" />
<circle cx="995.5" cy="473" r="3.3" fill="#fff" stroke="#2a2a2a" stroke-width="1.1" />
<circle cx="995.5" cy="483.25" r="3.3" fill="#fff" stroke="#2a2a2a" stroke-width="1.1" />
<circle cx="1017.5" cy="470" r="3.3" fill="#fff" stroke="#2a2a2a" stroke-width="1.1" />
<circle cx="1014" cy="479.25" r="3.3" fill="#fff" stroke="#2a2a2a" stroke-width="1.1" />
<circle cx="1020.75" cy="479.25" r="3.3" fill="#fff" stroke="#2a2a2a" stroke-width="1.1" />
<circle cx="1035.75" cy="482" r="3.3" fill="#fff" stroke="#2a2a2a" stroke-width="1.1" />
<circle cx="1042.5" cy="480.5" r="3.3" fill="#fff" stroke="#2a2a2a" stroke-width="1.1" />
<rect x="713.75" y="443" width="20" height="10.8" fill="#1f1c1d" stroke="#333" stroke-width="0.9" />
<text class="t" x="741.2" y="453.5" font-size="14.2" text-anchor="start" font-weight="normal" font-style="normal" fill="#231f20" >Sham</text>
<rect x="713.75" y="460" width="20" height="10.8" fill="#a1a3a6" stroke="#333" stroke-width="0.9" />
<text class="t" x="741.2" y="471" font-size="14.2" text-anchor="start" font-weight="normal" font-style="normal" fill="#231f20" >Sham ABX</text>
<rect x="713.75" y="476.75" width="20" height="10.8" fill="#3953a4" stroke="#333" stroke-width="0.9" />
<text class="t" x="741.2" y="487.25" font-size="14.2" text-anchor="start" font-weight="normal" font-style="normal" fill="#231f20" >CTX</text>
<rect x="713.75" y="494.25" width="20" height="10.8" fill="#6fc5a2" stroke="#333" stroke-width="0.9" />
<text class="t" x="741.2" y="505" font-size="14.2" text-anchor="start" font-weight="normal" font-style="normal" fill="#231f20" >CTX ABX</text>
<line x1="908.75" y1="297.5" x2="995.75" y2="297.5" stroke="#272727" stroke-width="1.12" />
<line x1="908.5" y1="294" x2="908.5" y2="301" stroke="#272727" stroke-width="1.12" />
<line x1="995.5" y1="294" x2="995.5" y2="301" stroke="#272727" stroke-width="1.12" />
<text class="t" x="957.3" y="298.54" font-size="11" text-anchor="middle" font-weight="bold" font-style="normal" fill="#231f20" letter-spacing="0.35">**</text>
<line x1="930.5" y1="278.5" x2="1017.5" y2="278.5" stroke="#272727" stroke-width="1.12" />
<line x1="930.5" y1="274.5" x2="930.5" y2="281.5" stroke="#272727" stroke-width="1.12" />
<line x1="1017.5" y1="274.5" x2="1017.5" y2="281.5" stroke="#272727" stroke-width="1.12" />
<text class="t" x="979.3" y="279.54" font-size="11" text-anchor="middle" font-weight="bold" font-style="normal" fill="#231f20" letter-spacing="0.35">***</text>
<line x1="953.75" y1="259.5" x2="1041.25" y2="259.5" stroke="#272727" stroke-width="1.12" />
<line x1="953.5" y1="256" x2="953.5" y2="263" stroke="#272727" stroke-width="1.12" />
<line x1="1041.5" y1="256" x2="1041.5" y2="263" stroke="#272727" stroke-width="1.12" />
<text class="t" x="1000" y="261.14" font-size="11" text-anchor="middle" font-weight="bold" font-style="normal" fill="#231f20" letter-spacing="0.35">****</text>
<text transform="translate(18.5 586.4) scale(0.82 1)" x="0" y="0" font-size="20" font-weight="bold" fill="#111" stroke="#111" stroke-width="0.65" stroke-linejoin="round">F</text>
<text class="t" x="194.3" y="585" font-size="13.8" text-anchor="middle" font-weight="normal" font-style="normal" fill="#231f20" >LNCaP</text>
<line x1="83.5" y1="587.4" x2="83.5" y2="790" stroke="#272727" stroke-width="1.12" />
<line x1="82.75" y1="789.5" x2="357.75" y2="789.5" stroke="#272727" stroke-width="1.12" />
<line x1="78.25" y1="789.5" x2="83.25" y2="789.5" stroke="#272727" stroke-width="1.12" />
<text class="t" x="76.5" y="793.1" font-size="10" text-anchor="end" font-weight="normal" font-style="normal" fill="#231f20" >0</text>
<line x1="78.25" y1="739.5" x2="83.25" y2="739.5" stroke="#272727" stroke-width="1.12" />
<text class="t" x="76.5" y="742.7" font-size="10" text-anchor="end" font-weight="normal" font-style="normal" fill="#231f20" >500</text>
<line x1="78.25" y1="688.5" x2="83.25" y2="688.5" stroke="#272727" stroke-width="1.12" />
<text class="t" x="76.5" y="692.3" font-size="10" text-anchor="end" font-weight="normal" font-style="normal" fill="#231f20" >1000</text>
<line x1="78.25" y1="638.5" x2="83.25" y2="638.5" stroke="#272727" stroke-width="1.12" />
<text class="t" x="76.5" y="641.9" font-size="10" text-anchor="end" font-weight="normal" font-style="normal" fill="#231f20" >1500</text>
<line x1="78.25" y1="587.5" x2="83.25" y2="587.5" stroke="#272727" stroke-width="1.12" />
<text class="t" x="76.5" y="591.5" font-size="10" text-anchor="end" font-weight="normal" font-style="normal" fill="#231f20" >2000</text>
<line x1="83.5" y1="789.5" x2="83.5" y2="795" stroke="#272727" stroke-width="1.12" />
<text class="t" x="83.25" y="806" font-size="10.3" text-anchor="middle" font-weight="normal" font-style="normal" fill="#231f20" >0</text>
<line x1="138.5" y1="789.5" x2="138.5" y2="795" stroke="#272727" stroke-width="1.12" />
<text class="t" x="138.05" y="806" font-size="10.3" text-anchor="middle" font-weight="normal" font-style="normal" fill="#231f20" >10</text>
<line x1="192.5" y1="789.5" x2="192.5" y2="795" stroke="#272727" stroke-width="1.12" />
<text class="t" x="192.85" y="806" font-size="10.3" text-anchor="middle" font-weight="normal" font-style="normal" fill="#231f20" >20</text>
<line x1="247.5" y1="789.5" x2="247.5" y2="795" stroke="#272727" stroke-width="1.12" />
<text class="t" x="247.65" y="806" font-size="10.3" text-anchor="middle" font-weight="normal" font-style="normal" fill="#231f20" >30</text>
<line x1="302.5" y1="789.5" x2="302.5" y2="795" stroke="#272727" stroke-width="1.12" />
<text class="t" x="302.45" y="806" font-size="10.3" text-anchor="middle" font-weight="normal" font-style="normal" fill="#231f20" >40</text>
<line x1="357.5" y1="789.5" x2="357.5" y2="795" stroke="#272727" stroke-width="1.12" />
<text class="t" x="357.25" y="806" font-size="10.3" text-anchor="middle" font-weight="normal" font-style="normal" fill="#231f20" >50</text>
<text class="t" x="197.7" y="820.5" font-size="14.8" text-anchor="middle" font-weight="normal" font-style="normal" fill="#231f20" >days post CTX</text>
<text class="t" x="0" y="0" font-size="14.2" text-anchor="middle" font-weight="normal" font-style="normal" fill="#231f20" transform="translate(47.3 694.5) rotate(-90)" >Tumor volume [mm<tspan dy="-5.5" font-size="11.5">3</tspan><tspan dy="5.5">]</tspan></text>
<line x1="127.5" y1="749.89" x2="127.5" y2="742.53" stroke="#272727" stroke-width="1.12" />
<line x1="124.49" y1="742.5" x2="129.69" y2="742.5" stroke="#272727" stroke-width="1.12" />
<line x1="143.5" y1="743.43" x2="143.5" y2="739.1" stroke="#272727" stroke-width="1.12" />
<line x1="140.93" y1="739.5" x2="146.13" y2="739.5" stroke="#272727" stroke-width="1.12" />
<line x1="154.5" y1="736.68" x2="154.5" y2="732.04" stroke="#272727" stroke-width="1.12" />
<line x1="151.89" y1="732.5" x2="157.09" y2="732.5" stroke="#272727" stroke-width="1.12" />
<line x1="165.5" y1="709.46" x2="165.5" y2="702.81" stroke="#272727" stroke-width="1.12" />
<line x1="162.85" y1="702.5" x2="168.05" y2="702.5" stroke="#272727" stroke-width="1.12" />
<line x1="181.5" y1="697.87" x2="181.5" y2="678.72" stroke="#272727" stroke-width="1.12" />
<line x1="179.29" y1="678.5" x2="184.49" y2="678.5" stroke="#272727" stroke-width="1.12" />
<line x1="198.5" y1="659.17" x2="198.5" y2="635.48" stroke="#272727" stroke-width="1.12" />
<line x1="195.73" y1="635.5" x2="200.93" y2="635.5" stroke="#272727" stroke-width="1.12" />
<line x1="220.5" y1="643.54" x2="220.5" y2="625.8" stroke="#272727" stroke-width="1.12" />
<line x1="217.65" y1="625.5" x2="222.85" y2="625.5" stroke="#272727" stroke-width="1.12" />
<line x1="116.5" y1="750.39" x2="116.5" y2="740.51" stroke="#272727" stroke-width="1.12" />
<line x1="113.53" y1="740.5" x2="118.73" y2="740.5" stroke="#272727" stroke-width="1.12" />
<line x1="127.5" y1="755.73" x2="127.5" y2="751.2" stroke="#272727" stroke-width="1.12" />
<line x1="124.49" y1="751.5" x2="129.69" y2="751.5" stroke="#272727" stroke-width="1.12" />
<line x1="143.5" y1="730.03" x2="143.5" y2="721.26" stroke="#272727" stroke-width="1.12" />
<line x1="140.93" y1="721.5" x2="146.13" y2="721.5" stroke="#272727" stroke-width="1.12" />
<line x1="154.5" y1="724.18" x2="154.5" y2="717.53" stroke="#272727" stroke-width="1.12" />
<line x1="151.89" y1="717.5" x2="157.09" y2="717.5" stroke="#272727" stroke-width="1.12" />
<line x1="165.5" y1="705.74" x2="165.5" y2="698.28" stroke="#272727" stroke-width="1.12" />
<line x1="162.85" y1="698.5" x2="168.05" y2="698.5" stroke="#272727" stroke-width="1.12" />
<line x1="181.5" y1="691.22" x2="181.5" y2="668.74" stroke="#272727" stroke-width="1.12" />
<line x1="179.29" y1="668.5" x2="184.49" y2="668.5" stroke="#272727" stroke-width="1.12" />
<line x1="198.5" y1="654.43" x2="198.5" y2="632.55" stroke="#272727" stroke-width="1.12" />
<line x1="195.73" y1="632.5" x2="200.93" y2="632.5" stroke="#272727" stroke-width="1.12" />
<line x1="220.5" y1="637.39" x2="220.5" y2="611.29" stroke="#272727" stroke-width="1.12" />
<line x1="217.65" y1="611.5" x2="222.85" y2="611.5" stroke="#272727" stroke-width="1.12" />
<line x1="143.5" y1="766.42" x2="143.5" y2="761.98" stroke="#272727" stroke-width="1.12" />
<line x1="140.93" y1="761.5" x2="146.13" y2="761.5" stroke="#272727" stroke-width="1.12" />
<line x1="154.5" y1="764.1" x2="154.5" y2="756.24" stroke="#272727" stroke-width="1.12" />
<line x1="151.89" y1="756.5" x2="157.09" y2="756.5" stroke="#272727" stroke-width="1.12" />
<line x1="165.5" y1="760.77" x2="165.5" y2="753.01" stroke="#272727" stroke-width="1.12" />
<line x1="162.85" y1="753.5" x2="168.05" y2="753.5" stroke="#272727" stroke-width="1.12" />
<line x1="181.5" y1="755.13" x2="181.5" y2="747.97" stroke="#272727" stroke-width="1.12" />
<line x1="179.29" y1="747.5" x2="184.49" y2="747.5" stroke="#272727" stroke-width="1.12" />
<line x1="198.5" y1="750.59" x2="198.5" y2="737.49" stroke="#272727" stroke-width="1.12" />
<line x1="195.73" y1="737.5" x2="200.93" y2="737.5" stroke="#272727" stroke-width="1.12" />
<line x1="220.5" y1="744.54" x2="220.5" y2="735.77" stroke="#272727" stroke-width="1.12" />
<line x1="217.65" y1="735.5" x2="222.85" y2="735.5" stroke="#272727" stroke-width="1.12" />
<line x1="231.5" y1="744.54" x2="231.5" y2="734.97" stroke="#272727" stroke-width="1.12" />
<line x1="228.61" y1="734.5" x2="233.81" y2="734.5" stroke="#272727" stroke-width="1.12" />
<line x1="242.5" y1="727.51" x2="242.5" y2="716.22" stroke="#272727" stroke-width="1.12" />
<line x1="239.57" y1="716.5" x2="244.77" y2="716.5" stroke="#272727" stroke-width="1.12" />
<line x1="258.5" y1="714.3" x2="258.5" y2="703.22" stroke="#272727" stroke-width="1.12" />
<line x1="256.01" y1="703.5" x2="261.21" y2="703.5" stroke="#272727" stroke-width="1.12" />
<line x1="269.5" y1="693.74" x2="269.5" y2="681.74" stroke="#272727" stroke-width="1.12" />
<line x1="266.97" y1="681.5" x2="272.17" y2="681.5" stroke="#272727" stroke-width="1.12" />
<line x1="280.5" y1="682.05" x2="280.5" y2="669.25" stroke="#272727" stroke-width="1.12" />
<line x1="277.93" y1="669.5" x2="283.13" y2="669.5" stroke="#272727" stroke-width="1.12" />
<line x1="296.5" y1="649.99" x2="296.5" y2="631.75" stroke="#272727" stroke-width="1.12" />
<line x1="294.37" y1="631.5" x2="299.57" y2="631.5" stroke="#272727" stroke-width="1.12" />
<line x1="313.5" y1="631.04" x2="313.5" y2="607.46" stroke="#272727" stroke-width="1.12" />
<line x1="310.81" y1="607.5" x2="316.01" y2="607.5" stroke="#272727" stroke-width="1.12" />
<line x1="231.5" y1="773.37" x2="231.5" y2="768.74" stroke="#272727" stroke-width="1.12" />
<line x1="228.61" y1="768.5" x2="233.81" y2="768.5" stroke="#272727" stroke-width="1.12" />
<line x1="242.5" y1="766.32" x2="242.5" y2="757.55" stroke="#272727" stroke-width="1.12" />
<line x1="239.57" y1="757.5" x2="244.77" y2="757.5" stroke="#272727" stroke-width="1.12" />
<line x1="258.5" y1="764.8" x2="258.5" y2="758.25" stroke="#272727" stroke-width="1.12" />
<line x1="256.01" y1="758.5" x2="261.21" y2="758.5" stroke="#272727" stroke-width="1.12" />
<line x1="269.5" y1="756.74" x2="269.5" y2="746.26" stroke="#272727" stroke-width="1.12" />
<line x1="266.97" y1="746.5" x2="272.17" y2="746.5" stroke="#272727" stroke-width="1.12" />
<line x1="280.5" y1="751.3" x2="280.5" y2="740.01" stroke="#272727" stroke-width="1.12" />
<line x1="277.93" y1="740.5" x2="283.13" y2="740.5" stroke="#272727" stroke-width="1.12" />
<line x1="296.5" y1="748.37" x2="296.5" y2="736.28" stroke="#272727" stroke-width="1.12" />
<line x1="294.37" y1="736.5" x2="299.57" y2="736.5" stroke="#272727" stroke-width="1.12" />
<line x1="313.5" y1="748.37" x2="313.5" y2="738.8" stroke="#272727" stroke-width="1.12" />
<line x1="310.81" y1="738.5" x2="316.01" y2="738.5" stroke="#272727" stroke-width="1.12" />
<polyline points="83.25,781.94 105.17,781.23 116.13,783.05 127.09,782.24 143.53,782.14 154.49,781.84 165.45,780.43 181.89,780.83 198.33,778.41 220.25,777.81 231.21,773.37 242.17,766.32 258.61,764.8 269.57,756.74 280.53,751.3 296.97,748.37 313.41,748.37" fill="none" stroke="#272727" stroke-width="1.12" />
<polyline points="83.25,781.94 105.17,775.89 116.13,775.39 127.09,775.39 143.53,766.42 154.49,764.1 165.45,760.77 181.89,755.13 198.33,750.59 220.25,744.54 231.21,744.54 242.17,727.51 258.61,714.3 269.57,693.74 280.53,682.05 296.97,649.99 313.41,631.04" fill="none" stroke="#272727" stroke-width="1.12" />
<polyline points="83.25,781.44 105.17,770.35 116.13,750.39 127.09,755.73 143.53,730.03 154.49,724.18 165.45,705.74 181.89,691.22 198.33,654.43 220.25,637.39" fill="none" stroke="#272727" stroke-width="1.12" />
<polyline points="83.25,778.41 105.17,771.05 116.13,766.52 127.09,749.89 143.53,743.43 154.49,736.68 165.45,709.46 181.89,697.87 198.33,659.17 220.25,643.54" fill="none" stroke="#272727" stroke-width="1.12" />
<circle cx="83.25" cy="781.94" r="3.3" fill="#8cc0aa" stroke="#222" stroke-width="0.9" />
<circle cx="105.17" cy="781.23" r="3.3" fill="#8cc0aa" stroke="#222" stroke-width="0.9" />
<circle cx="116.13" cy="783.05" r="3.3" fill="#8cc0aa" stroke="#222" stroke-width="0.9" />
<circle cx="127.09" cy="782.24" r="3.3" fill="#8cc0aa" stroke="#222" stroke-width="0.9" />
<circle cx="143.53" cy="782.14" r="3.3" fill="#8cc0aa" stroke="#222" stroke-width="0.9" />
<circle cx="154.49" cy="781.84" r="3.3" fill="#8cc0aa" stroke="#222" stroke-width="0.9" />
<circle cx="165.45" cy="780.43" r="3.3" fill="#8cc0aa" stroke="#222" stroke-width="0.9" />
<circle cx="181.89" cy="780.83" r="3.3" fill="#8cc0aa" stroke="#222" stroke-width="0.9" />
<circle cx="198.33" cy="778.41" r="3.3" fill="#8cc0aa" stroke="#222" stroke-width="0.9" />
<circle cx="220.25" cy="777.81" r="3.3" fill="#8cc0aa" stroke="#222" stroke-width="0.9" />
<circle cx="231.21" cy="773.37" r="3.3" fill="#8cc0aa" stroke="#222" stroke-width="0.9" />
<circle cx="242.17" cy="766.32" r="3.3" fill="#8cc0aa" stroke="#222" stroke-width="0.9" />
<circle cx="258.61" cy="764.8" r="3.3" fill="#8cc0aa" stroke="#222" stroke-width="0.9" />
<circle cx="269.57" cy="756.74" r="3.3" fill="#8cc0aa" stroke="#222" stroke-width="0.9" />
<circle cx="280.53" cy="751.3" r="3.3" fill="#8cc0aa" stroke="#222" stroke-width="0.9" />
<circle cx="296.97" cy="748.37" r="3.3" fill="#8cc0aa" stroke="#222" stroke-width="0.9" />
<circle cx="313.41" cy="748.37" r="3.3" fill="#8cc0aa" stroke="#222" stroke-width="0.9" />
<circle cx="83.25" cy="781.94" r="3.3" fill="#3c4d8e" stroke="#222" stroke-width="0.9" />
<circle cx="105.17" cy="775.89" r="3.3" fill="#3c4d8e" stroke="#222" stroke-width="0.9" />
<circle cx="116.13" cy="775.39" r="3.3" fill="#3c4d8e" stroke="#222" stroke-width="0.9" />
<circle cx="127.09" cy="775.39" r="3.3" fill="#3c4d8e" stroke="#222" stroke-width="0.9" />
<circle cx="143.53" cy="766.42" r="3.3" fill="#3c4d8e" stroke="#222" stroke-width="0.9" />
<circle cx="154.49" cy="764.1" r="3.3" fill="#3c4d8e" stroke="#222" stroke-width="0.9" />
<circle cx="165.45" cy="760.77" r="3.3" fill="#3c4d8e" stroke="#222" stroke-width="0.9" />
<circle cx="181.89" cy="755.13" r="3.3" fill="#3c4d8e" stroke="#222" stroke-width="0.9" />
<circle cx="198.33" cy="750.59" r="3.3" fill="#3c4d8e" stroke="#222" stroke-width="0.9" />
<circle cx="220.25" cy="744.54" r="3.3" fill="#3c4d8e" stroke="#222" stroke-width="0.9" />
<circle cx="231.21" cy="744.54" r="3.3" fill="#3c4d8e" stroke="#222" stroke-width="0.9" />
<circle cx="242.17" cy="727.51" r="3.3" fill="#3c4d8e" stroke="#222" stroke-width="0.9" />
<circle cx="258.61" cy="714.3" r="3.3" fill="#3c4d8e" stroke="#222" stroke-width="0.9" />
<circle cx="269.57" cy="693.74" r="3.3" fill="#3c4d8e" stroke="#222" stroke-width="0.9" />
<circle cx="280.53" cy="682.05" r="3.3" fill="#3c4d8e" stroke="#222" stroke-width="0.9" />
<circle cx="296.97" cy="649.99" r="3.3" fill="#3c4d8e" stroke="#222" stroke-width="0.9" />
<circle cx="313.41" cy="631.04" r="3.3" fill="#3c4d8e" stroke="#222" stroke-width="0.9" />
<circle cx="83.25" cy="781.44" r="3.3" fill="#a1a3a6" stroke="#222" stroke-width="0.9" />
<circle cx="105.17" cy="770.35" r="3.3" fill="#a1a3a6" stroke="#222" stroke-width="0.9" />
<circle cx="116.13" cy="750.39" r="3.3" fill="#a1a3a6" stroke="#222" stroke-width="0.9" />
<circle cx="127.09" cy="755.73" r="3.3" fill="#a1a3a6" stroke="#222" stroke-width="0.9" />
<circle cx="143.53" cy="730.03" r="3.3" fill="#a1a3a6" stroke="#222" stroke-width="0.9" />
<circle cx="154.49" cy="724.18" r="3.3" fill="#a1a3a6" stroke="#222" stroke-width="0.9" />
<circle cx="165.45" cy="705.74" r="3.3" fill="#a1a3a6" stroke="#222" stroke-width="0.9" />
<circle cx="181.89" cy="691.22" r="3.3" fill="#a1a3a6" stroke="#222" stroke-width="0.9" />
<circle cx="198.33" cy="654.43" r="3.3" fill="#a1a3a6" stroke="#222" stroke-width="0.9" />
<circle cx="220.25" cy="637.39" r="3.3" fill="#a1a3a6" stroke="#222" stroke-width="0.9" />
<circle cx="83.25" cy="778.41" r="3.3" fill="#1f1c1d" stroke="#222" stroke-width="0.9" />
<circle cx="105.17" cy="771.05" r="3.3" fill="#1f1c1d" stroke="#222" stroke-width="0.9" />
<circle cx="116.13" cy="766.52" r="3.3" fill="#1f1c1d" stroke="#222" stroke-width="0.9" />
<circle cx="127.09" cy="749.89" r="3.3" fill="#1f1c1d" stroke="#222" stroke-width="0.9" />
<circle cx="143.53" cy="743.43" r="3.3" fill="#1f1c1d" stroke="#222" stroke-width="0.9" />
<circle cx="154.49" cy="736.68" r="3.3" fill="#1f1c1d" stroke="#222" stroke-width="0.9" />
<circle cx="165.45" cy="709.46" r="3.3" fill="#1f1c1d" stroke="#222" stroke-width="0.9" />
<circle cx="181.89" cy="697.87" r="3.3" fill="#1f1c1d" stroke="#222" stroke-width="0.9" />
<circle cx="198.33" cy="659.17" r="3.3" fill="#1f1c1d" stroke="#222" stroke-width="0.9" />
<circle cx="220.25" cy="643.54" r="3.3" fill="#1f1c1d" stroke="#222" stroke-width="0.9" />
<line x1="88" y1="594.5" x2="103.3" y2="594.5" stroke="#272727" stroke-width="1.12" />
<circle cx="95.75" cy="594.25" r="3.1" fill="#1f1c1d" stroke="#222" stroke-width="0.9" />
<text class="t" x="107.5" y="598.05" font-size="10.5" text-anchor="start" font-weight="normal" font-style="normal" fill="#231f20" >Sham</text>
<line x1="88" y1="607.5" x2="103.3" y2="607.5" stroke="#272727" stroke-width="1.12" />
<circle cx="95.75" cy="607.5" r="3.1" fill="#a1a3a6" stroke="#222" stroke-width="0.9" />
<text class="t" x="107.5" y="611.3" font-size="10.5" text-anchor="start" font-weight="normal" font-style="normal" fill="#231f20" >Sham ABX</text>
<line x1="88" y1="620.5" x2="103.3" y2="620.5" stroke="#272727" stroke-width="1.12" />
<circle cx="95.75" cy="620.75" r="3.1" fill="#3c4d8e" stroke="#222" stroke-width="0.9" />
<text class="t" x="107.5" y="624.55" font-size="10.5" text-anchor="start" font-weight="normal" font-style="normal" fill="#231f20" >CTX</text>
<line x1="88" y1="634.5" x2="103.3" y2="634.5" stroke="#272727" stroke-width="1.12" />
<circle cx="95.75" cy="634.25" r="3.1" fill="#8cc0aa" stroke="#222" stroke-width="0.9" />
<text class="t" x="107.5" y="638.05" font-size="10.5" text-anchor="start" font-weight="normal" font-style="normal" fill="#231f20" >CTX ABX</text>
<line x1="164.5" y1="595" x2="164.5" y2="633.75" stroke="#272727" stroke-width="1.23" />
<line x1="161" y1="595.5" x2="168" y2="595.5" stroke="#272727" stroke-width="1.23" />
<line x1="161" y1="607.5" x2="168" y2="607.5" stroke="#272727" stroke-width="1.23" />
<line x1="161" y1="621.5" x2="168" y2="621.5" stroke="#272727" stroke-width="1.23" />
<line x1="161" y1="633.5" x2="168" y2="633.5" stroke="#272727" stroke-width="1.23" />
<text class="t" x="168.8" y="605.5" font-size="10.2" text-anchor="start" font-weight="normal" font-style="normal" fill="#231f20" >ns</text>
<text class="t" x="167" y="618.73" font-size="9.5" text-anchor="start" font-weight="bold" font-style="normal" fill="#231f20" letter-spacing="0.35">**</text>
<text class="t" x="168" y="631.63" font-size="9.5" text-anchor="start" font-weight="bold" font-style="normal" fill="#231f20" letter-spacing="0.35">****</text>
<line x1="187.5" y1="609.25" x2="187.5" y2="633.75" stroke="#272727" stroke-width="1.23" />
<line x1="183.5" y1="609.5" x2="190.5" y2="609.5" stroke="#272727" stroke-width="1.23" />
<line x1="183.5" y1="633.5" x2="190.5" y2="633.5" stroke="#272727" stroke-width="1.23" />
<text transform="translate(195.2 621.3) rotate(-90)" font-size="9.5" font-weight="bold" text-anchor="middle" fill="#231f20" letter-spacing="0.35">****</text>
<line x1="197.5" y1="595" x2="197.5" y2="620" stroke="#272727" stroke-width="1.23" />
<line x1="194" y1="595.5" x2="201" y2="595.5" stroke="#272727" stroke-width="1.23" />
<line x1="194" y1="620.5" x2="201" y2="620.5" stroke="#272727" stroke-width="1.23" />
<text class="t" x="201" y="612.33" font-size="9.5" text-anchor="start" font-weight="bold" font-style="normal" fill="#231f20" letter-spacing="0.35">*</text>
<text transform="translate(379.3 586.6) scale(0.82 1)" x="0" y="0" font-size="20" font-weight="bold" fill="#111" stroke="#111" stroke-width="0.65" stroke-linejoin="round">G</text>
<text class="t" x="570.8" y="585" font-size="14" text-anchor="middle" font-weight="normal" font-style="normal" fill="#231f20" >LuCaP35</text>
<line x1="435.5" y1="587.75" x2="435.5" y2="790" stroke="#272727" stroke-width="1.12" />
<line x1="435" y1="789.5" x2="753.4" y2="789.5" stroke="#272727" stroke-width="1.12" />
<line x1="429.5" y1="789.5" x2="435.5" y2="789.5" stroke="#272727" stroke-width="1.12" />
<text class="t" x="427.3" y="793.1" font-size="10" text-anchor="end" font-weight="normal" font-style="normal" fill="#231f20" >0</text>
<line x1="429.5" y1="749.5" x2="435.5" y2="749.5" stroke="#272727" stroke-width="1.12" />
<text class="t" x="427.3" y="752.85" font-size="10" text-anchor="end" font-weight="normal" font-style="normal" fill="#231f20" >500</text>
<line x1="429.5" y1="709.5" x2="435.5" y2="709.5" stroke="#272727" stroke-width="1.12" />
<text class="t" x="427.3" y="712.6" font-size="10" text-anchor="end" font-weight="normal" font-style="normal" fill="#231f20" >1000</text>
<line x1="429.5" y1="668.5" x2="435.5" y2="668.5" stroke="#272727" stroke-width="1.12" />
<text class="t" x="427.3" y="672.35" font-size="10" text-anchor="end" font-weight="normal" font-style="normal" fill="#231f20" >1500</text>
<line x1="429.5" y1="628.5" x2="435.5" y2="628.5" stroke="#272727" stroke-width="1.12" />
<text class="t" x="427.3" y="632.1" font-size="10" text-anchor="end" font-weight="normal" font-style="normal" fill="#231f20" >2000</text>
<line x1="429.5" y1="588.5" x2="435.5" y2="588.5" stroke="#272727" stroke-width="1.12" />
<text class="t" x="427.3" y="591.85" font-size="10" text-anchor="end" font-weight="normal" font-style="normal" fill="#231f20" >2500</text>
<line x1="435.5" y1="789.5" x2="435.5" y2="795" stroke="#272727" stroke-width="1.12" />
<text class="t" x="435.5" y="806" font-size="10.3" text-anchor="middle" font-weight="normal" font-style="normal" fill="#231f20" >0</text>
<line x1="541.5" y1="789.5" x2="541.5" y2="795" stroke="#272727" stroke-width="1.12" />
<text class="t" x="541.3" y="806" font-size="10.3" text-anchor="middle" font-weight="normal" font-style="normal" fill="#231f20" >20</text>
<line x1="647.5" y1="789.5" x2="647.5" y2="795" stroke="#272727" stroke-width="1.12" />
<text class="t" x="647.1" y="806" font-size="10.3" text-anchor="middle" font-weight="normal" font-style="normal" fill="#231f20" >40</text>
<line x1="752.5" y1="789.5" x2="752.5" y2="795" stroke="#272727" stroke-width="1.12" />
<text class="t" x="752.9" y="806" font-size="10.3" text-anchor="middle" font-weight="normal" font-style="normal" fill="#231f20" >60</text>
<text class="t" x="597.5" y="820.5" font-size="14.6" text-anchor="middle" font-weight="normal" font-style="normal" fill="#231f20" >days post CTX</text>
<text class="t" x="0" y="0" font-size="14.3" text-anchor="middle" font-weight="normal" font-style="normal" fill="#231f20" transform="translate(393.5 690) rotate(-90)" >Tumor volume [mm<tspan dy="-5.5" font-size="11.5">3</tspan><tspan dy="5.5">]</tspan></text>
<line x1="483.5" y1="763.02" x2="483.5" y2="758.02" stroke="#272727" stroke-width="1.12" />
<line x1="479.81" y1="758.5" x2="486.41" y2="758.5" stroke="#272727" stroke-width="1.12" />
<line x1="493.5" y1="751.99" x2="493.5" y2="744.5" stroke="#272727" stroke-width="1.12" />
<line x1="490.39" y1="744.5" x2="496.99" y2="744.5" stroke="#272727" stroke-width="1.12" />
<line x1="509.5" y1="730.98" x2="509.5" y2="715.52" stroke="#272727" stroke-width="1.12" />
<line x1="506.26" y1="715.5" x2="512.86" y2="715.5" stroke="#272727" stroke-width="1.12" />
<line x1="525.5" y1="712.38" x2="525.5" y2="699.98" stroke="#272727" stroke-width="1.12" />
<line x1="522.13" y1="699.5" x2="528.73" y2="699.5" stroke="#272727" stroke-width="1.12" />
<line x1="562.5" y1="656.67" x2="562.5" y2="651.76" stroke="#272727" stroke-width="1.12" />
<line x1="559.16" y1="651.5" x2="565.76" y2="651.5" stroke="#272727" stroke-width="1.12" />
<line x1="493.5" y1="764.95" x2="493.5" y2="760.52" stroke="#272727" stroke-width="1.12" />
<line x1="490.39" y1="760.5" x2="496.99" y2="760.5" stroke="#272727" stroke-width="1.12" />
<line x1="525.5" y1="763.34" x2="525.5" y2="760.04" stroke="#272727" stroke-width="1.12" />
<line x1="522.13" y1="760.5" x2="528.73" y2="760.5" stroke="#272727" stroke-width="1.12" />
<line x1="546.5" y1="751.66" x2="546.5" y2="745.79" stroke="#272727" stroke-width="1.12" />
<line x1="543.29" y1="745.5" x2="549.89" y2="745.5" stroke="#272727" stroke-width="1.12" />
<line x1="562.5" y1="745.63" x2="562.5" y2="737.5" stroke="#272727" stroke-width="1.12" />
<line x1="559.16" y1="737.5" x2="565.76" y2="737.5" stroke="#272727" stroke-width="1.12" />
<line x1="583.5" y1="728.32" x2="583.5" y2="720.03" stroke="#272727" stroke-width="1.12" />
<line x1="580.32" y1="720.5" x2="586.92" y2="720.5" stroke="#272727" stroke-width="1.12" />
<line x1="599.5" y1="695.72" x2="599.5" y2="679.22" stroke="#272727" stroke-width="1.12" />
<line x1="596.19" y1="679.5" x2="602.79" y2="679.5" stroke="#272727" stroke-width="1.12" />
<line x1="620.5" y1="676" x2="620.5" y2="659.98" stroke="#272727" stroke-width="1.12" />
<line x1="617.35" y1="659.5" x2="623.95" y2="659.5" stroke="#272727" stroke-width="1.12" />
<line x1="636.5" y1="642.59" x2="636.5" y2="633.01" stroke="#272727" stroke-width="1.12" />
<line x1="633.22" y1="633.5" x2="639.82" y2="633.5" stroke="#272727" stroke-width="1.12" />
<line x1="583.5" y1="755.29" x2="583.5" y2="750.54" stroke="#272727" stroke-width="1.12" />
<line x1="580.32" y1="750.5" x2="586.92" y2="750.5" stroke="#272727" stroke-width="1.12" />
<line x1="636.5" y1="725.1" x2="636.5" y2="718.74" stroke="#272727" stroke-width="1.12" />
<line x1="633.22" y1="718.5" x2="639.82" y2="718.5" stroke="#272727" stroke-width="1.12" />
<line x1="652.5" y1="715.84" x2="652.5" y2="709.24" stroke="#272727" stroke-width="1.12" />
<line x1="649.09" y1="709.5" x2="655.69" y2="709.5" stroke="#272727" stroke-width="1.12" />
<line x1="668.5" y1="715.44" x2="668.5" y2="708.03" stroke="#272727" stroke-width="1.12" />
<line x1="664.96" y1="708.5" x2="671.56" y2="708.5" stroke="#272727" stroke-width="1.12" />
<line x1="684.5" y1="703.37" x2="684.5" y2="695.48" stroke="#272727" stroke-width="1.12" />
<line x1="680.83" y1="695.5" x2="687.43" y2="695.5" stroke="#272727" stroke-width="1.12" />
<line x1="705.5" y1="693.71" x2="705.5" y2="685.74" stroke="#272727" stroke-width="1.12" />
<line x1="701.99" y1="685.5" x2="708.59" y2="685.5" stroke="#272727" stroke-width="1.12" />
<line x1="721.5" y1="683.24" x2="721.5" y2="673.74" stroke="#272727" stroke-width="1.12" />
<line x1="717.86" y1="673.5" x2="724.46" y2="673.5" stroke="#272727" stroke-width="1.12" />
<polyline points="435.5,783.06 451.37,782.25 472.53,781.05 483.11,779.84 493.69,775.82 509.56,779.84 525.43,776.62 546.59,771.39 562.46,765.35 583.62,755.29 599.49,747.64 620.65,740.8 636.52,725.1 652.39,715.84 668.26,715.44 684.13,703.37 705.29,693.71 721.16,683.24" fill="none" stroke="#272727" stroke-width="1.12" />
<polyline points="435.5,779.84 451.37,777.83 472.53,773.8 483.11,771.39 493.69,764.95 509.56,769.38 525.43,763.34 546.59,751.66 562.46,745.63 583.62,728.32 599.49,695.72 620.65,676 636.52,642.59" fill="none" stroke="#272727" stroke-width="1.12" />
<polyline points="435.5,781.45 451.37,779.03 472.53,774.21 483.11,763.02 493.69,751.99 509.56,730.98 525.43,712.38 546.59,678.89 562.46,656.67" fill="none" stroke="#272727" stroke-width="1.12" />
<circle cx="435.5" cy="781.45" r="3.9" fill="#1f1c1d" stroke="#222" stroke-width="0.9" />
<circle cx="451.37" cy="779.03" r="3.9" fill="#1f1c1d" stroke="#222" stroke-width="0.9" />
<circle cx="472.53" cy="774.21" r="3.9" fill="#1f1c1d" stroke="#222" stroke-width="0.9" />
<circle cx="483.11" cy="763.02" r="3.9" fill="#1f1c1d" stroke="#222" stroke-width="0.9" />
<circle cx="493.69" cy="751.99" r="3.9" fill="#1f1c1d" stroke="#222" stroke-width="0.9" />
<circle cx="509.56" cy="730.98" r="3.9" fill="#1f1c1d" stroke="#222" stroke-width="0.9" />
<circle cx="525.43" cy="712.38" r="3.9" fill="#1f1c1d" stroke="#222" stroke-width="0.9" />
<circle cx="546.59" cy="678.89" r="3.9" fill="#1f1c1d" stroke="#222" stroke-width="0.9" />
<circle cx="562.46" cy="656.67" r="3.9" fill="#1f1c1d" stroke="#222" stroke-width="0.9" />
<circle cx="435.5" cy="783.06" r="3.9" fill="#8cc0aa" stroke="#222" stroke-width="0.9" />
<circle cx="451.37" cy="782.25" r="3.9" fill="#8cc0aa" stroke="#222" stroke-width="0.9" />
<circle cx="472.53" cy="781.05" r="3.9" fill="#8cc0aa" stroke="#222" stroke-width="0.9" />
<circle cx="483.11" cy="779.84" r="3.9" fill="#8cc0aa" stroke="#222" stroke-width="0.9" />
<circle cx="493.69" cy="775.82" r="3.9" fill="#8cc0aa" stroke="#222" stroke-width="0.9" />
<circle cx="509.56" cy="779.84" r="3.9" fill="#8cc0aa" stroke="#222" stroke-width="0.9" />
<circle cx="525.43" cy="776.62" r="3.9" fill="#8cc0aa" stroke="#222" stroke-width="0.9" />
<circle cx="546.59" cy="771.39" r="3.9" fill="#8cc0aa" stroke="#222" stroke-width="0.9" />
<circle cx="562.46" cy="765.35" r="3.9" fill="#8cc0aa" stroke="#222" stroke-width="0.9" />
<circle cx="583.62" cy="755.29" r="3.9" fill="#8cc0aa" stroke="#222" stroke-width="0.9" />
<circle cx="599.49" cy="747.64" r="3.9" fill="#8cc0aa" stroke="#222" stroke-width="0.9" />
<circle cx="620.65" cy="740.8" r="3.9" fill="#8cc0aa" stroke="#222" stroke-width="0.9" />
<circle cx="636.52" cy="725.1" r="3.9" fill="#8cc0aa" stroke="#222" stroke-width="0.9" />
<circle cx="652.39" cy="715.84" r="3.9" fill="#8cc0aa" stroke="#222" stroke-width="0.9" />
<circle cx="668.26" cy="715.44" r="3.9" fill="#8cc0aa" stroke="#222" stroke-width="0.9" />
<circle cx="684.13" cy="703.37" r="3.9" fill="#8cc0aa" stroke="#222" stroke-width="0.9" />
<circle cx="705.29" cy="693.71" r="3.9" fill="#8cc0aa" stroke="#222" stroke-width="0.9" />
<circle cx="721.16" cy="683.24" r="3.9" fill="#8cc0aa" stroke="#222" stroke-width="0.9" />
<circle cx="435.5" cy="779.84" r="3.9" fill="#3c4d8e" stroke="#222" stroke-width="0.9" />
<circle cx="451.37" cy="777.83" r="3.9" fill="#3c4d8e" stroke="#222" stroke-width="0.9" />
<circle cx="472.53" cy="773.8" r="3.9" fill="#3c4d8e" stroke="#222" stroke-width="0.9" />
<circle cx="483.11" cy="771.39" r="3.9" fill="#3c4d8e" stroke="#222" stroke-width="0.9" />
<circle cx="493.69" cy="764.95" r="3.9" fill="#3c4d8e" stroke="#222" stroke-width="0.9" />
<circle cx="509.56" cy="769.38" r="3.9" fill="#3c4d8e" stroke="#222" stroke-width="0.9" />
<circle cx="525.43" cy="763.34" r="3.9" fill="#3c4d8e" stroke="#222" stroke-width="0.9" />
<circle cx="546.59" cy="751.66" r="3.9" fill="#3c4d8e" stroke="#222" stroke-width="0.9" />
<circle cx="562.46" cy="745.63" r="3.9" fill="#3c4d8e" stroke="#222" stroke-width="0.9" />
<circle cx="583.62" cy="728.32" r="3.9" fill="#3c4d8e" stroke="#222" stroke-width="0.9" />
<circle cx="599.49" cy="695.72" r="3.9" fill="#3c4d8e" stroke="#222" stroke-width="0.9" />
<circle cx="620.65" cy="676" r="3.9" fill="#3c4d8e" stroke="#222" stroke-width="0.9" />
<circle cx="636.52" cy="642.59" r="3.9" fill="#3c4d8e" stroke="#222" stroke-width="0.9" />
<line x1="449.3" y1="598.5" x2="471.3" y2="598.5" stroke="#272727" stroke-width="1.12" />
<circle cx="460.5" cy="598.75" r="3.9" fill="#1f1c1d" stroke="#222" stroke-width="0.9" />
<text class="t" x="478.3" y="601.25" font-size="11.2" text-anchor="start" font-weight="normal" font-style="normal" fill="#231f20" >Sham</text>
<line x1="449.3" y1="620.5" x2="471.3" y2="620.5" stroke="#272727" stroke-width="1.12" />
<circle cx="460.5" cy="620.75" r="3.9" fill="#3c4d8e" stroke="#222" stroke-width="0.9" />
<text class="t" x="478.3" y="623.95" font-size="11.2" text-anchor="start" font-weight="normal" font-style="normal" fill="#231f20" >CTX</text>
<line x1="449.3" y1="642.5" x2="471.3" y2="642.5" stroke="#272727" stroke-width="1.12" />
<circle cx="460.5" cy="642" r="3.9" fill="#8cc0aa" stroke="#222" stroke-width="0.9" />
<text class="t" x="478.3" y="646" font-size="11.2" text-anchor="start" font-weight="normal" font-style="normal" fill="#231f20" >CTX ABX</text>
<line x1="535.5" y1="595" x2="535.5" y2="617" stroke="#222" stroke-width="1.68" />
<line x1="530.9" y1="595.5" x2="540.1" y2="595.5" stroke="#222" stroke-width="1.68" />
<line x1="530.9" y1="617.5" x2="540.1" y2="617.5" stroke="#222" stroke-width="1.68" />
<line x1="535.5" y1="620" x2="535.5" y2="641.75" stroke="#222" stroke-width="1.68" />
<line x1="530.9" y1="620.5" x2="540.1" y2="620.5" stroke="#222" stroke-width="1.68" />
<line x1="530.9" y1="641.5" x2="540.1" y2="641.5" stroke="#222" stroke-width="1.68" />
<text class="t" x="538" y="612.83" font-size="14.5" text-anchor="start" font-weight="bold" font-style="normal" fill="#231f20" letter-spacing="0.9">***</text>
<text class="t" x="538" y="636.63" font-size="14.5" text-anchor="start" font-weight="bold" font-style="normal" fill="#231f20" letter-spacing="0.9">**</text>
<line x1="570.5" y1="595" x2="570.5" y2="641.3" stroke="#222" stroke-width="1.68" />
<line x1="565.9" y1="595.5" x2="575.1" y2="595.5" stroke="#222" stroke-width="1.68" />
<line x1="565.9" y1="641.5" x2="575.1" y2="641.5" stroke="#222" stroke-width="1.68" />
<text class="t" x="574.3" y="627.03" font-size="14.5" text-anchor="start" font-weight="bold" font-style="normal" fill="#231f20" letter-spacing="0.9">****</text>
<text transform="translate(778 586.6) scale(0.82 1)" x="0" y="0" font-size="20" font-weight="bold" fill="#111" stroke="#111" stroke-width="0.65" stroke-linejoin="round">H</text>
<line x1="818.5" y1="626.5" x2="818.5" y2="787.25" stroke="#272727" stroke-width="1.12" />
<line x1="818.25" y1="786.5" x2="1058.25" y2="786.5" stroke="#272727" stroke-width="1.12" />
<line x1="813.25" y1="786.5" x2="818.75" y2="786.5" stroke="#272727" stroke-width="1.01" />
<line x1="815.75" y1="779.5" x2="818.75" y2="779.5" stroke="#272727" stroke-width="1.01" />
<line x1="815.75" y1="772.5" x2="818.75" y2="772.5" stroke="#272727" stroke-width="1.01" />
<line x1="815.75" y1="765.5" x2="818.75" y2="765.5" stroke="#272727" stroke-width="1.01" />
<line x1="815.75" y1="757.5" x2="818.75" y2="757.5" stroke="#272727" stroke-width="1.01" />
<line x1="815.75" y1="750.5" x2="818.75" y2="750.5" stroke="#272727" stroke-width="1.01" />
<line x1="815.75" y1="743.5" x2="818.75" y2="743.5" stroke="#272727" stroke-width="1.01" />
<line x1="815.75" y1="736.5" x2="818.75" y2="736.5" stroke="#272727" stroke-width="1.01" />
<line x1="815.75" y1="728.5" x2="818.75" y2="728.5" stroke="#272727" stroke-width="1.01" />
<line x1="815.75" y1="721.5" x2="818.75" y2="721.5" stroke="#272727" stroke-width="1.01" />
<line x1="813.25" y1="714.5" x2="818.75" y2="714.5" stroke="#272727" stroke-width="1.01" />
<line x1="815.75" y1="707.5" x2="818.75" y2="707.5" stroke="#272727" stroke-width="1.01" />
<line x1="815.75" y1="699.5" x2="818.75" y2="699.5" stroke="#272727" stroke-width="1.01" />
<line x1="815.75" y1="692.5" x2="818.75" y2="692.5" stroke="#272727" stroke-width="1.01" />
<line x1="815.75" y1="685.5" x2="818.75" y2="685.5" stroke="#272727" stroke-width="1.01" />
<line x1="815.75" y1="678.5" x2="818.75" y2="678.5" stroke="#272727" stroke-width="1.01" />
<line x1="815.75" y1="670.5" x2="818.75" y2="670.5" stroke="#272727" stroke-width="1.01" />
<line x1="815.75" y1="663.5" x2="818.75" y2="663.5" stroke="#272727" stroke-width="1.01" />
<line x1="815.75" y1="656.5" x2="818.75" y2="656.5" stroke="#272727" stroke-width="1.01" />
<line x1="815.75" y1="649.5" x2="818.75" y2="649.5" stroke="#272727" stroke-width="1.01" />
<line x1="813.25" y1="642.5" x2="818.75" y2="642.5" stroke="#272727" stroke-width="1.01" />
<line x1="815.75" y1="634.5" x2="818.75" y2="634.5" stroke="#272727" stroke-width="1.01" />
<line x1="815.75" y1="627.5" x2="818.75" y2="627.5" stroke="#272727" stroke-width="1.01" />
<text class="t" x="811.5" y="790.45" font-size="10.3" text-anchor="end" font-weight="normal" font-style="normal" fill="#231f20" >0</text>
<text class="t" x="811.5" y="718.08" font-size="10.3" text-anchor="end" font-weight="normal" font-style="normal" fill="#231f20" >50</text>
<text class="t" x="811.5" y="645.7" font-size="10.3" text-anchor="end" font-weight="normal" font-style="normal" fill="#231f20" >100</text>
<line x1="818.5" y1="786.75" x2="818.5" y2="792.25" stroke="#272727" stroke-width="1.12" />
<text class="t" x="818.75" y="805" font-size="10.3" text-anchor="middle" font-weight="normal" font-style="normal" fill="#231f20" >0</text>
<line x1="866.5" y1="786.75" x2="866.5" y2="792.25" stroke="#272727" stroke-width="1.12" />
<text class="t" x="866.25" y="805" font-size="10.3" text-anchor="middle" font-weight="normal" font-style="normal" fill="#231f20" >10</text>
<line x1="913.5" y1="786.75" x2="913.5" y2="792.25" stroke="#272727" stroke-width="1.12" />
<text class="t" x="913.75" y="805" font-size="10.3" text-anchor="middle" font-weight="normal" font-style="normal" fill="#231f20" >20</text>
<line x1="961.5" y1="786.75" x2="961.5" y2="792.25" stroke="#272727" stroke-width="1.12" />
<text class="t" x="961.25" y="805" font-size="10.3" text-anchor="middle" font-weight="normal" font-style="normal" fill="#231f20" >30</text>
<line x1="1008.5" y1="786.75" x2="1008.5" y2="792.25" stroke="#272727" stroke-width="1.12" />
<text class="t" x="1008.75" y="805" font-size="10.3" text-anchor="middle" font-weight="normal" font-style="normal" fill="#231f20" >40</text>
<line x1="1056.5" y1="786.75" x2="1056.5" y2="792.25" stroke="#272727" stroke-width="1.12" />
<text class="t" x="1056.25" y="805" font-size="10.3" text-anchor="middle" font-weight="normal" font-style="normal" fill="#231f20" >50</text>
<text class="t" x="935.7" y="820" font-size="14.8" text-anchor="middle" font-weight="normal" font-style="normal" fill="#231f20" >days post CTX</text>
<text class="t" x="0" y="0" font-size="13.9" text-anchor="middle" font-weight="normal" font-style="normal" fill="#231f20" transform="translate(792.3 714) rotate(-90)" >Percent survival</text>
<polyline points="818.5,642.5 1019.5,642.5 1019.5,660.5 1033.85,660.09" fill="none" stroke="#272727" stroke-width="1.12" />
<polyline points="818.5,642.5 971.5,642.5 971.5,670.5 981.5,670.5 981.5,699.5 990.5,699.5 990.5,728.5 1005.5,728.5 1005.5,786.5" fill="none" stroke="#272727" stroke-width="1.12" />
<polyline points="818.5,642.5 904.5,642.5 904.5,690.5 919.5,690.5 919.5,786.5" fill="none" stroke="#272727" stroke-width="1.12" />
<polyline points="818.5,642.5 890.5,642.5 890.5,678.5 904.5,678.5 904.5,714.5 919.5,714.5 919.5,750.5 938.5,750.5 938.5,786.5" fill="none" stroke="#272727" stroke-width="1.12" />
<circle cx="890.45" cy="678.19" r="3.5" fill="#1f1c1d" stroke="#1f1c1d" stroke-width="1" />
<circle cx="904.79" cy="714.38" r="3.5" fill="#1f1c1d" stroke="#1f1c1d" stroke-width="1" />
<circle cx="919.13" cy="750.56" r="3.5" fill="#1f1c1d" stroke="#1f1c1d" stroke-width="1" />
<circle cx="938.25" cy="786.75" r="3.5" fill="#1f1c1d" stroke="#1f1c1d" stroke-width="1" />
<circle cx="904.79" cy="690.2" r="3.4" fill="#a1a3a6" stroke="#333" stroke-width="0.9" />
<circle cx="919.13" cy="786.75" r="3.4" fill="#a1a3a6" stroke="#333" stroke-width="0.9" />
<circle cx="971.71" cy="670.95" r="3.4" fill="#3c4d8e" stroke="#2a3560" stroke-width="0.9" />
<circle cx="981.27" cy="699.9" r="3.4" fill="#3c4d8e" stroke="#2a3560" stroke-width="0.9" />
<circle cx="990.83" cy="728.85" r="3.4" fill="#3c4d8e" stroke="#2a3560" stroke-width="0.9" />
<circle cx="1005.17" cy="786.75" r="3.4" fill="#3c4d8e" stroke="#2a3560" stroke-width="0.9" />
<circle cx="1019.51" cy="660.09" r="3.4" fill="#8cc0aa" stroke="#3d6d5c" stroke-width="0.9" />
<circle cx="1033.85" cy="660.09" r="3.4" fill="#8cc0aa" stroke="#3d6d5c" stroke-width="0.9" />
<line x1="961.75" y1="584.5" x2="978" y2="584.5" stroke="#272727" stroke-width="1.12" />
<circle cx="970" cy="584.5" r="2.6" fill="#1f1c1d" stroke="#222" stroke-width="0.9" />
<text class="t" x="986.2" y="588.9" font-size="10.6" text-anchor="start" font-weight="normal" font-style="normal" fill="#231f20" >Sham</text>
<line x1="961.75" y1="599.5" x2="978" y2="599.5" stroke="#272727" stroke-width="1.12" />
<circle cx="970" cy="599.25" r="2.6" fill="#a1a3a6" stroke="#222" stroke-width="0.9" />
<text class="t" x="986.2" y="603.65" font-size="10.6" text-anchor="start" font-weight="normal" font-style="normal" fill="#231f20" >Sham ABX</text>
<line x1="961.75" y1="614.5" x2="978" y2="614.5" stroke="#272727" stroke-width="1.12" />
<circle cx="970" cy="614.5" r="2.6" fill="#3c4d8e" stroke="#222" stroke-width="0.9" />
<text class="t" x="986.2" y="618.9" font-size="10.6" text-anchor="start" font-weight="normal" font-style="normal" fill="#231f20" >CTX</text>
<line x1="961.75" y1="629.5" x2="978" y2="629.5" stroke="#272727" stroke-width="1.12" />
<circle cx="970" cy="629.5" r="2.6" fill="#8cc0aa" stroke="#222" stroke-width="0.9" />
<text class="t" x="986.2" y="633.9" font-size="10.6" text-anchor="start" font-weight="normal" font-style="normal" fill="#231f20" >CTX ABX</text>
<line x1="1047.5" y1="584.5" x2="1047.5" y2="600" stroke="#272727" stroke-width="1.12" />
<line x1="1042.6" y1="584.5" x2="1051.4" y2="584.5" stroke="#272727" stroke-width="1.12" />
<line x1="1042.6" y1="600.5" x2="1051.4" y2="600.5" stroke="#272727" stroke-width="1.12" />
<text class="t" x="1051.2" y="595" font-size="10.2" text-anchor="start" font-weight="normal" font-style="normal" fill="#231f20" >ns</text>
<line x1="1047.5" y1="615.5" x2="1047.5" y2="631.25" stroke="#272727" stroke-width="1.12" />
<line x1="1042.6" y1="615.5" x2="1051.4" y2="615.5" stroke="#272727" stroke-width="1.12" />
<line x1="1042.6" y1="631.5" x2="1051.4" y2="631.5" stroke="#272727" stroke-width="1.12" />
<text class="t" x="1050" y="627.63" font-size="9.5" text-anchor="start" font-weight="bold" font-style="normal" fill="#231f20" letter-spacing="0.35">***</text>
<text transform="translate(18.5 860) scale(0.82 1)" x="0" y="0" font-size="20" font-weight="bold" fill="#111" stroke="#111" stroke-width="0.65" stroke-linejoin="round">I</text>
<line x1="82.5" y1="859" x2="82.5" y2="1019.75" stroke="#272727" stroke-width="1.12" />
<line x1="82" y1="1019.5" x2="322.2" y2="1019.5" stroke="#272727" stroke-width="1.12" />
<line x1="77" y1="1019.5" x2="82.5" y2="1019.5" stroke="#272727" stroke-width="1.01" />
<line x1="79.5" y1="1012.5" x2="82.5" y2="1012.5" stroke="#272727" stroke-width="1.01" />
<line x1="79.5" y1="1004.5" x2="82.5" y2="1004.5" stroke="#272727" stroke-width="1.01" />
<line x1="79.5" y1="997.5" x2="82.5" y2="997.5" stroke="#272727" stroke-width="1.01" />
<line x1="79.5" y1="990.5" x2="82.5" y2="990.5" stroke="#272727" stroke-width="1.01" />
<line x1="79.5" y1="983.5" x2="82.5" y2="983.5" stroke="#272727" stroke-width="1.01" />
<line x1="79.5" y1="975.5" x2="82.5" y2="975.5" stroke="#272727" stroke-width="1.01" />
<line x1="79.5" y1="968.5" x2="82.5" y2="968.5" stroke="#272727" stroke-width="1.01" />
<line x1="79.5" y1="961.5" x2="82.5" y2="961.5" stroke="#272727" stroke-width="1.01" />
<line x1="79.5" y1="954.5" x2="82.5" y2="954.5" stroke="#272727" stroke-width="1.01" />
<line x1="77" y1="946.5" x2="82.5" y2="946.5" stroke="#272727" stroke-width="1.01" />
<line x1="79.5" y1="939.5" x2="82.5" y2="939.5" stroke="#272727" stroke-width="1.01" />
<line x1="79.5" y1="932.5" x2="82.5" y2="932.5" stroke="#272727" stroke-width="1.01" />
<line x1="79.5" y1="925.5" x2="82.5" y2="925.5" stroke="#272727" stroke-width="1.01" />
<line x1="79.5" y1="917.5" x2="82.5" y2="917.5" stroke="#272727" stroke-width="1.01" />
<line x1="79.5" y1="910.5" x2="82.5" y2="910.5" stroke="#272727" stroke-width="1.01" />
<line x1="79.5" y1="903.5" x2="82.5" y2="903.5" stroke="#272727" stroke-width="1.01" />
<line x1="79.5" y1="896.5" x2="82.5" y2="896.5" stroke="#272727" stroke-width="1.01" />
<line x1="79.5" y1="888.5" x2="82.5" y2="888.5" stroke="#272727" stroke-width="1.01" />
<line x1="79.5" y1="881.5" x2="82.5" y2="881.5" stroke="#272727" stroke-width="1.01" />
<line x1="77" y1="874.5" x2="82.5" y2="874.5" stroke="#272727" stroke-width="1.01" />
<line x1="79.5" y1="867.5" x2="82.5" y2="867.5" stroke="#272727" stroke-width="1.01" />
<line x1="79.5" y1="859.5" x2="82.5" y2="859.5" stroke="#272727" stroke-width="1.01" />
<text class="t" x="75" y="1022.95" font-size="10.3" text-anchor="end" font-weight="normal" font-style="normal" fill="#231f20" >0</text>
<text class="t" x="75" y="950.45" font-size="10.3" text-anchor="end" font-weight="normal" font-style="normal" fill="#231f20" >50</text>
<text class="t" x="75" y="877.95" font-size="10.3" text-anchor="end" font-weight="normal" font-style="normal" fill="#231f20" >100</text>
<line x1="82.5" y1="1019.25" x2="82.5" y2="1024.75" stroke="#272727" stroke-width="1.12" />
<text class="t" x="82.5" y="1038.8" font-size="10.3" text-anchor="middle" font-weight="normal" font-style="normal" fill="#231f20" >0</text>
<line x1="161.5" y1="1019.25" x2="161.5" y2="1024.75" stroke="#272727" stroke-width="1.12" />
<text class="t" x="161.9" y="1038.8" font-size="10.3" text-anchor="middle" font-weight="normal" font-style="normal" fill="#231f20" >20</text>
<line x1="241.5" y1="1019.25" x2="241.5" y2="1024.75" stroke="#272727" stroke-width="1.12" />
<text class="t" x="241.3" y="1038.8" font-size="10.3" text-anchor="middle" font-weight="normal" font-style="normal" fill="#231f20" >40</text>
<line x1="320.5" y1="1019.25" x2="320.5" y2="1024.75" stroke="#272727" stroke-width="1.12" />
<text class="t" x="320.7" y="1038.8" font-size="10.3" text-anchor="middle" font-weight="normal" font-style="normal" fill="#231f20" >60</text>
<text class="t" x="198" y="1050" font-size="14.2" text-anchor="middle" font-weight="normal" font-style="normal" fill="#231f20" >days post CTX</text>
<text class="t" x="0" y="0" font-size="13.9" text-anchor="middle" font-weight="normal" font-style="normal" fill="#231f20" transform="translate(49.3 946) rotate(-90)" >Percent survival</text>
<polyline points="82.5,874.5 233.5,874.5 233.5,922.5 269.5,922.5 269.5,946.5 284.5,946.5 284.5,970.5 296.5,970.5 296.5,1019.5" fill="none" stroke="#272727" stroke-width="1.12" />
<polyline points="82.5,874.5 193.5,874.5 193.5,903.5 205.5,903.5 205.5,961.5 221.5,961.5 221.5,990.5 233.5,990.5 233.5,1019.5" fill="none" stroke="#272727" stroke-width="1.12" />
<polyline points="82.5,874.5 138.5,874.5 138.5,903.5 149.5,903.5 149.5,932.5 165.5,932.5 165.5,1019.5" fill="none" stroke="#272727" stroke-width="1.12" />
<circle cx="138.08" cy="903.25" r="3.4" fill="#1f1c1d" stroke="#1f1c1d" stroke-width="1" />
<circle cx="149.99" cy="932.25" r="3.4" fill="#1f1c1d" stroke="#1f1c1d" stroke-width="1" />
<circle cx="165.87" cy="1019.25" r="3.4" fill="#1f1c1d" stroke="#1f1c1d" stroke-width="1" />
<circle cx="193.66" cy="903.25" r="3.3" fill="#3c4d8e" stroke="#2a3560" stroke-width="0.9" />
<circle cx="205.57" cy="961.25" r="3.3" fill="#3c4d8e" stroke="#2a3560" stroke-width="0.9" />
<circle cx="221.45" cy="990.25" r="3.3" fill="#3c4d8e" stroke="#2a3560" stroke-width="0.9" />
<circle cx="233.36" cy="1019.25" r="3.3" fill="#3c4d8e" stroke="#2a3560" stroke-width="0.9" />
<circle cx="233.36" cy="922.53" r="3.3" fill="#8cc0aa" stroke="#3d6d5c" stroke-width="0.9" />
<circle cx="269.09" cy="946.75" r="3.3" fill="#8cc0aa" stroke="#3d6d5c" stroke-width="0.9" />
<circle cx="284.97" cy="970.97" r="3.3" fill="#8cc0aa" stroke="#3d6d5c" stroke-width="0.9" />
<circle cx="296.88" cy="1019.25" r="3.3" fill="#8cc0aa" stroke="#3d6d5c" stroke-width="0.9" />
<line x1="257.5" y1="855.5" x2="273.3" y2="855.5" stroke="#272727" stroke-width="1.12" />
<circle cx="265.5" cy="855.5" r="2.6" fill="#1f1c1d" stroke="#222" stroke-width="0.9" />
<text class="t" x="281.7" y="859.7" font-size="10.5" text-anchor="start" font-weight="normal" font-style="normal" fill="#231f20" >Sham</text>
<line x1="257.5" y1="873.5" x2="273.3" y2="873.5" stroke="#272727" stroke-width="1.12" />
<circle cx="265.5" cy="873" r="2.6" fill="#3c4d8e" stroke="#222" stroke-width="0.9" />
<text class="t" x="281.7" y="877.2" font-size="10.5" text-anchor="start" font-weight="normal" font-style="normal" fill="#231f20" >CTX</text>
<line x1="257.5" y1="889.5" x2="273.3" y2="889.5" stroke="#272727" stroke-width="1.12" />
<circle cx="265.5" cy="889.25" r="2.6" fill="#8cc0aa" stroke="#222" stroke-width="0.9" />
<text class="t" x="281.7" y="893.45" font-size="10.5" text-anchor="start" font-weight="normal" font-style="normal" fill="#231f20" >CTX ABX</text>
<line x1="342.5" y1="854.5" x2="342.5" y2="890.75" stroke="#272727" stroke-width="1.12" />
<line x1="336.5" y1="854.5" x2="348.5" y2="854.5" stroke="#272727" stroke-width="1.12" />
<line x1="336.5" y1="873.5" x2="348.5" y2="873.5" stroke="#272727" stroke-width="1.12" />
<line x1="336.5" y1="890.5" x2="348.5" y2="890.5" stroke="#272727" stroke-width="1.12" />
<text class="t" x="346.2" y="868.93" font-size="9.5" text-anchor="start" font-weight="bold" font-style="normal" fill="#231f20" letter-spacing="0.35">***</text>
<text class="t" x="347.2" y="885.63" font-size="9.5" text-anchor="start" font-weight="bold" font-style="normal" fill="#231f20" letter-spacing="0.35">***</text>
<text transform="translate(396 860.6) scale(0.85 1)" x="0" y="0" font-size="20" font-weight="bold" fill="#111" stroke="#111" stroke-width="0.65" stroke-linejoin="round">J</text>
<rect x="535.5" y="879.5" width="77.25" height="30" fill="#ed1c24" stroke="#8e1f22" stroke-width="0.8" />
<rect x="535.5" y="925.75" width="171.75" height="30" fill="#ed1c24" stroke="#8e1f22" stroke-width="0.8" />
<rect x="535.5" y="972" width="196" height="30" fill="#ed1c24" stroke="#8e1f22" stroke-width="0.8" />
<line x1="535.5" y1="864" x2="535.5" y2="1017.25" stroke="#272727" stroke-width="1.12" />
<line x1="535" y1="1016.5" x2="766.3" y2="1016.5" stroke="#272727" stroke-width="1.12" />
<line x1="535.5" y1="1016.75" x2="535.5" y2="1020.75" stroke="#272727" stroke-width="1.12" />
<text class="t" x="535.5" y="1032" font-size="9.6" text-anchor="middle" font-weight="normal" font-style="normal" fill="#231f20" >1</text>
<line x1="612.5" y1="1016.75" x2="612.5" y2="1020.75" stroke="#272727" stroke-width="1.12" />
<text class="t" x="612.25" y="1032" font-size="9.6" text-anchor="middle" font-weight="normal" font-style="normal" fill="#231f20" >4</text>
<line x1="689.5" y1="1016.75" x2="689.5" y2="1020.75" stroke="#272727" stroke-width="1.12" />
<text class="t" x="689.2" y="1032" font-size="9.6" text-anchor="middle" font-weight="normal" font-style="normal" fill="#231f20" >16</text>
<line x1="766.5" y1="1016.75" x2="766.5" y2="1020.75" stroke="#272727" stroke-width="1.12" />
<text class="t" x="766" y="1032" font-size="9.6" text-anchor="middle" font-weight="normal" font-style="normal" fill="#231f20" >64</text>
<line x1="532" y1="894.5" x2="535.5" y2="894.5" stroke="#272727" stroke-width="1.12" />
<text class="t" x="529" y="898.1" font-size="12.35" text-anchor="end" font-weight="normal" font-style="italic" fill="#231f20" >Ruminococcus gnavus</text>
<line x1="532" y1="940.5" x2="535.5" y2="940.5" stroke="#272727" stroke-width="1.12" />
<text class="t" x="531.5" y="944.35" font-size="12.35" text-anchor="end" font-weight="normal" font-style="italic" fill="#231f20" >Bacteroides acidifaciens</text>
<line x1="532" y1="987.5" x2="535.5" y2="987.5" stroke="#272727" stroke-width="1.12" />
<text class="t" x="529" y="990.6" font-size="12.35" text-anchor="end" font-weight="normal" font-style="italic" fill="#231f20" >Ruminococcus gnavus</text>
<text class="t" x="458.2" y="1033" font-size="12.9" text-anchor="start" font-weight="normal" font-style="normal" fill="#231f20" >OTU</text>
<text class="t" x="582.6" y="1050" font-size="13.3" text-anchor="start" font-weight="normal" font-style="normal" fill="#231f20" >Ratio CR/Sham (log2)</text>
<text transform="translate(782.3 860.6) scale(0.82 1)" x="0" y="0" font-size="20" font-weight="bold" fill="#111" stroke="#111" stroke-width="0.65" stroke-linejoin="round">K</text>
<line x1="825.5" y1="875.35" x2="825.5" y2="1016.75" stroke="#272727" stroke-width="1.12" />
<line x1="825" y1="1016.5" x2="910" y2="1016.5" stroke="#272727" stroke-width="1.12" />
<line x1="821" y1="1016.5" x2="825.5" y2="1016.5" stroke="#272727" stroke-width="1.12" />
<text class="t" x="819" y="1019.85" font-size="10.2" text-anchor="end" font-weight="normal" font-style="normal" fill="#231f20" >0</text>
<line x1="821" y1="969.5" x2="825.5" y2="969.5" stroke="#272727" stroke-width="1.12" />
<text class="t" x="819" y="973.05" font-size="10.2" text-anchor="end" font-weight="normal" font-style="normal" fill="#231f20" >1</text>
<line x1="821" y1="922.5" x2="825.5" y2="922.5" stroke="#272727" stroke-width="1.12" />
<text class="t" x="819" y="926.25" font-size="10.2" text-anchor="end" font-weight="normal" font-style="normal" fill="#231f20" >2</text>
<line x1="821" y1="875.5" x2="825.5" y2="875.5" stroke="#272727" stroke-width="1.12" />
<text class="t" x="819" y="879.45" font-size="10.2" text-anchor="end" font-weight="normal" font-style="normal" fill="#231f20" >3</text>
<text class="t" x="0" y="0" font-size="13.8" text-anchor="middle" font-weight="normal" font-style="normal" fill="#231f20" transform="translate(808 939.5) rotate(-90)" >norm OTU count</text>
<text class="t" x="880.5" y="850.8" font-size="14.2" text-anchor="middle" font-weight="normal" font-style="italic" fill="#231f20" >Ruminococcus</text>
<text class="t" x="876.8" y="864.6" font-size="14.2" text-anchor="middle" font-weight="normal" font-style="italic" fill="#231f20" >gnavus</text>
<line x1="892.5" y1="937.63" x2="892.5" y2="920.75" stroke="#272727" stroke-width="1.12" />
<line x1="887.5" y1="920.5" x2="897.5" y2="920.5" stroke="#272727" stroke-width="1.12" />
<rect x="879.25" y="937.5" width="26.5" height="78.75" fill="#3953a4" stroke="#2b3f85" stroke-width="0.8" />
<circle cx="892.5" cy="895" r="2.7" fill="#fff" stroke="#333" stroke-width="1" />
<circle cx="887" cy="921.25" r="2.7" fill="#fff" stroke="#333" stroke-width="1" />
<circle cx="898" cy="917" r="2.7" fill="#fff" stroke="#333" stroke-width="1" />
<circle cx="852.5" cy="1002.5" r="2.7" fill="#fff" stroke="#333" stroke-width="1" />
<circle cx="846" cy="1016" r="2.7" fill="#fff" stroke="#333" stroke-width="1" />
<circle cx="851" cy="1016" r="2.7" fill="#fff" stroke="#333" stroke-width="1" />
<circle cx="856" cy="1016" r="2.7" fill="#fff" stroke="#333" stroke-width="1" />
<circle cx="861" cy="1016" r="2.7" fill="#fff" stroke="#333" stroke-width="1" />
<circle cx="892.5" cy="973.75" r="2.4" fill="#fff" stroke="none" stroke-width="1" />
<circle cx="892.5" cy="980.75" r="2.4" fill="#fff" stroke="none" stroke-width="1" />
<line x1="852" y1="884.5" x2="892.5" y2="884.5" stroke="#272727" stroke-width="1.12" />
<line x1="852.5" y1="881" x2="852.5" y2="888" stroke="#272727" stroke-width="1.12" />
<line x1="892.5" y1="881" x2="892.5" y2="888" stroke="#272727" stroke-width="1.12" />
<text class="t" x="872" y="885.74" font-size="11" text-anchor="middle" font-weight="bold" font-style="normal" fill="#231f20" letter-spacing="0.35">***</text>
<text class="t" x="852.5" y="1035" font-size="12.5" text-anchor="middle" font-weight="normal" font-style="normal" fill="#231f20" >Sham</text>
<text class="t" x="893.8" y="1035" font-size="12.5" text-anchor="middle" font-weight="normal" font-style="normal" fill="#231f20" >CTX</text>
<line x1="966.5" y1="874.5" x2="966.5" y2="1016.75" stroke="#272727" stroke-width="1.12" />
<line x1="966.25" y1="1016.5" x2="1062.5" y2="1016.5" stroke="#272727" stroke-width="1.12" />
<line x1="962.25" y1="1016.5" x2="966.75" y2="1016.5" stroke="#272727" stroke-width="1.12" />
<text class="t" x="960.3" y="1019.85" font-size="10.2" text-anchor="end" font-weight="normal" font-style="normal" fill="#231f20" >0</text>
<line x1="962.25" y1="988.5" x2="966.75" y2="988.5" stroke="#272727" stroke-width="1.12" />
<text class="t" x="960.3" y="991.6" font-size="10.2" text-anchor="end" font-weight="normal" font-style="normal" fill="#231f20" >1</text>
<line x1="962.25" y1="959.5" x2="966.75" y2="959.5" stroke="#272727" stroke-width="1.12" />
<text class="t" x="960.3" y="963.35" font-size="10.2" text-anchor="end" font-weight="normal" font-style="normal" fill="#231f20" >2</text>
<line x1="962.25" y1="931.5" x2="966.75" y2="931.5" stroke="#272727" stroke-width="1.12" />
<text class="t" x="960.3" y="935.1" font-size="10.2" text-anchor="end" font-weight="normal" font-style="normal" fill="#231f20" >3</text>
<line x1="962.25" y1="903.5" x2="966.75" y2="903.5" stroke="#272727" stroke-width="1.12" />
<text class="t" x="960.3" y="906.85" font-size="10.2" text-anchor="end" font-weight="normal" font-style="normal" fill="#231f20" >4</text>
<line x1="962.25" y1="875.5" x2="966.75" y2="875.5" stroke="#272727" stroke-width="1.12" />
<text class="t" x="960.3" y="878.6" font-size="10.2" text-anchor="end" font-weight="normal" font-style="normal" fill="#231f20" >5</text>
<text class="t" x="0" y="0" font-size="13.8" text-anchor="middle" font-weight="normal" font-style="normal" fill="#231f20" transform="translate(949.8 939.5) rotate(-90)" >norm OTU count</text>
<text class="t" x="1020.8" y="850.8" font-size="14.2" text-anchor="middle" font-weight="normal" font-style="italic" fill="#231f20" >Bacteroides</text>
<text class="t" x="1020" y="864.6" font-size="14.2" text-anchor="middle" font-weight="normal" font-style="italic" fill="#231f20" >acidifaciens</text>
<line x1="1033.5" y1="938.85" x2="1033.5" y2="928" stroke="#272727" stroke-width="1.12" />
<line x1="1028.75" y1="928.5" x2="1038.75" y2="928.5" stroke="#272727" stroke-width="1.12" />
<rect x="1020.75" y="938.75" width="26" height="77.5" fill="#3953a4" stroke="#2b3f85" stroke-width="0.8" />
<circle cx="1033.75" cy="904.5" r="2.7" fill="#fff" stroke="#333" stroke-width="1" />
<circle cx="1033.75" cy="923.75" r="2.7" fill="#fff" stroke="#333" stroke-width="1" />
<circle cx="990" cy="1007.5" r="2.7" fill="#fff" stroke="#333" stroke-width="1" />
<circle cx="996.75" cy="1003" r="2.7" fill="#fff" stroke="#333" stroke-width="1" />
<circle cx="988" cy="1016" r="2.7" fill="#fff" stroke="#333" stroke-width="1" />
<circle cx="994" cy="1016" r="2.7" fill="#fff" stroke="#333" stroke-width="1" />
<circle cx="1000" cy="1016" r="2.7" fill="#fff" stroke="#333" stroke-width="1" />
<circle cx="1028" cy="949.25" r="2.4" fill="#fff" stroke="none" stroke-width="1" />
<circle cx="1039.25" cy="951.25" r="2.4" fill="#fff" stroke="none" stroke-width="1" />
<circle cx="1033.75" cy="965.5" r="2.4" fill="#fff" stroke="none" stroke-width="1" />
<line x1="993.25" y1="884.5" x2="1033.75" y2="884.5" stroke="#272727" stroke-width="1.12" />
<line x1="993.5" y1="881" x2="993.5" y2="888" stroke="#272727" stroke-width="1.12" />
<line x1="1033.5" y1="881" x2="1033.5" y2="888" stroke="#272727" stroke-width="1.12" />
<text class="t" x="1013.8" y="885.74" font-size="11" text-anchor="middle" font-weight="bold" font-style="normal" fill="#231f20" letter-spacing="0.35">****</text>
<text class="t" x="996" y="1035" font-size="12.5" text-anchor="middle" font-weight="normal" font-style="normal" fill="#231f20" >Sham</text>
<text class="t" x="1034" y="1035" font-size="12.5" text-anchor="middle" font-weight="normal" font-style="normal" fill="#231f20" >CTX</text>
<text class="wm" x="822 853 879 899.5 931 962 993 1024" y="1033.6" font-size="31" font-weight="400" font-family='"Liberation Sans", "Noto Sans CJK SC", sans-serif' fill="#808080" stroke="#808080" stroke-width="1.4" opacity="0.6" transform="translate(1.0 1.1)" filter="url(#b05)">知乎 @细胞世界</text>
<text class="wm" x="822 853 879 899.5 931 962 993 1024" y="1033.6" font-size="31" font-weight="400" font-family='"Liberation Sans", "Noto Sans CJK SC", sans-serif' fill="#ffffff" stroke="#ffffff" stroke-width="1.35">知乎 @细胞世界</text>
</g>
</svg>
</body></html>
